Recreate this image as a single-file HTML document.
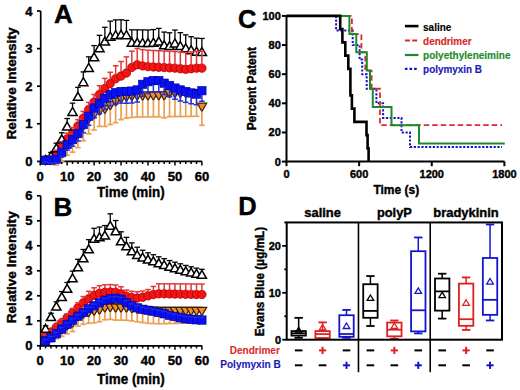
<!DOCTYPE html><html><head><meta charset="utf-8"><style>html,body{margin:0;padding:0;background:#fff;}svg{display:block;}</style></head><body><svg width="520" height="390" viewBox="0 0 520 390" font-family='"Liberation Sans", sans-serif'>
<rect width="520" height="390" fill="#fff"/>
<line x1="40.70" y1="11.00" x2="40.70" y2="162.20" stroke="#000" stroke-width="1.7"/>
<line x1="37.00" y1="161.40" x2="40.70" y2="161.40" stroke="#000" stroke-width="1.7"/>
<text x="32.5" y="166.0" font-size="13" text-anchor="end" fill="#000" stroke="#000" stroke-width="0.4" font-weight="bold">0</text>
<line x1="37.00" y1="123.80" x2="40.70" y2="123.80" stroke="#000" stroke-width="1.7"/>
<text x="32.5" y="128.4" font-size="13" text-anchor="end" fill="#000" stroke="#000" stroke-width="0.4" font-weight="bold">1</text>
<line x1="37.00" y1="86.20" x2="40.70" y2="86.20" stroke="#000" stroke-width="1.7"/>
<text x="32.5" y="90.8" font-size="13" text-anchor="end" fill="#000" stroke="#000" stroke-width="0.4" font-weight="bold">2</text>
<line x1="37.00" y1="48.60" x2="40.70" y2="48.60" stroke="#000" stroke-width="1.7"/>
<text x="32.5" y="53.199999999999996" font-size="13" text-anchor="end" fill="#000" stroke="#000" stroke-width="0.4" font-weight="bold">3</text>
<line x1="37.00" y1="11.00" x2="40.70" y2="11.00" stroke="#000" stroke-width="1.7"/>
<text x="32.5" y="15.6" font-size="13" text-anchor="end" fill="#000" stroke="#000" stroke-width="0.4" font-weight="bold">4</text>
<line x1="39.90" y1="161.40" x2="202.10" y2="161.40" stroke="#000" stroke-width="1.7"/>
<line x1="40.20" y1="161.40" x2="40.20" y2="165.40" stroke="#000" stroke-width="1.5"/>
<line x1="45.59" y1="161.40" x2="45.59" y2="164.00" stroke="#000" stroke-width="1.5"/>
<line x1="50.98" y1="161.40" x2="50.98" y2="164.00" stroke="#000" stroke-width="1.5"/>
<line x1="56.37" y1="161.40" x2="56.37" y2="164.00" stroke="#000" stroke-width="1.5"/>
<line x1="61.76" y1="161.40" x2="61.76" y2="164.00" stroke="#000" stroke-width="1.5"/>
<line x1="67.15" y1="161.40" x2="67.15" y2="165.40" stroke="#000" stroke-width="1.5"/>
<line x1="72.54" y1="161.40" x2="72.54" y2="164.00" stroke="#000" stroke-width="1.5"/>
<line x1="77.93" y1="161.40" x2="77.93" y2="164.00" stroke="#000" stroke-width="1.5"/>
<line x1="83.32" y1="161.40" x2="83.32" y2="164.00" stroke="#000" stroke-width="1.5"/>
<line x1="88.71" y1="161.40" x2="88.71" y2="164.00" stroke="#000" stroke-width="1.5"/>
<line x1="94.10" y1="161.40" x2="94.10" y2="165.40" stroke="#000" stroke-width="1.5"/>
<line x1="99.49" y1="161.40" x2="99.49" y2="164.00" stroke="#000" stroke-width="1.5"/>
<line x1="104.88" y1="161.40" x2="104.88" y2="164.00" stroke="#000" stroke-width="1.5"/>
<line x1="110.27" y1="161.40" x2="110.27" y2="164.00" stroke="#000" stroke-width="1.5"/>
<line x1="115.66" y1="161.40" x2="115.66" y2="164.00" stroke="#000" stroke-width="1.5"/>
<line x1="121.05" y1="161.40" x2="121.05" y2="165.40" stroke="#000" stroke-width="1.5"/>
<line x1="126.44" y1="161.40" x2="126.44" y2="164.00" stroke="#000" stroke-width="1.5"/>
<line x1="131.83" y1="161.40" x2="131.83" y2="164.00" stroke="#000" stroke-width="1.5"/>
<line x1="137.22" y1="161.40" x2="137.22" y2="164.00" stroke="#000" stroke-width="1.5"/>
<line x1="142.61" y1="161.40" x2="142.61" y2="164.00" stroke="#000" stroke-width="1.5"/>
<line x1="148.00" y1="161.40" x2="148.00" y2="165.40" stroke="#000" stroke-width="1.5"/>
<line x1="153.39" y1="161.40" x2="153.39" y2="164.00" stroke="#000" stroke-width="1.5"/>
<line x1="158.78" y1="161.40" x2="158.78" y2="164.00" stroke="#000" stroke-width="1.5"/>
<line x1="164.17" y1="161.40" x2="164.17" y2="164.00" stroke="#000" stroke-width="1.5"/>
<line x1="169.56" y1="161.40" x2="169.56" y2="164.00" stroke="#000" stroke-width="1.5"/>
<line x1="174.95" y1="161.40" x2="174.95" y2="165.40" stroke="#000" stroke-width="1.5"/>
<line x1="180.34" y1="161.40" x2="180.34" y2="164.00" stroke="#000" stroke-width="1.5"/>
<line x1="185.73" y1="161.40" x2="185.73" y2="164.00" stroke="#000" stroke-width="1.5"/>
<line x1="191.12" y1="161.40" x2="191.12" y2="164.00" stroke="#000" stroke-width="1.5"/>
<line x1="196.51" y1="161.40" x2="196.51" y2="164.00" stroke="#000" stroke-width="1.5"/>
<line x1="201.90" y1="161.40" x2="201.90" y2="165.40" stroke="#000" stroke-width="1.5"/>
<path d="M40.79 156.45L50.39 156.45L45.59 164.85Z" fill="#f28a2a" stroke="#3a2000" stroke-width="1.2"/><path d="M46.18 156.07L55.78 156.07L50.98 164.47Z" fill="#f28a2a" stroke="#3a2000" stroke-width="1.2"/><path d="M51.57 155.32L61.17 155.32L56.37 163.72Z" fill="#f28a2a" stroke="#3a2000" stroke-width="1.2"/><path d="M56.96 149.68L66.56 149.68L61.76 158.08Z" fill="#f28a2a" stroke="#3a2000" stroke-width="1.2"/><path d="M62.35 142.16L71.95 142.16L67.15 150.56Z" fill="#f28a2a" stroke="#3a2000" stroke-width="1.2"/><path d="M67.74 137.27L77.34 137.27L72.54 145.67Z" fill="#f28a2a" stroke="#3a2000" stroke-width="1.2"/><path d="M73.13 130.88L82.73 130.88L77.93 139.28Z" fill="#f28a2a" stroke="#3a2000" stroke-width="1.2"/><path d="M78.52 122.23L88.12 122.23L83.32 130.63Z" fill="#f28a2a" stroke="#3a2000" stroke-width="1.2"/><path d="M83.91 115.09L93.51 115.09L88.71 123.49Z" fill="#f28a2a" stroke="#3a2000" stroke-width="1.2"/><path d="M89.30 110.95L98.90 110.95L94.10 119.35Z" fill="#f28a2a" stroke="#3a2000" stroke-width="1.2"/><path d="M94.69 107.19L104.29 107.19L99.49 115.59Z" fill="#f28a2a" stroke="#3a2000" stroke-width="1.2"/><path d="M100.08 105.31L109.68 105.31L104.88 113.71Z" fill="#f28a2a" stroke="#3a2000" stroke-width="1.2"/><path d="M105.47 101.55L115.07 101.55L110.27 109.95Z" fill="#f28a2a" stroke="#3a2000" stroke-width="1.2"/><path d="M110.86 97.79L120.46 97.79L115.66 106.19Z" fill="#f28a2a" stroke="#3a2000" stroke-width="1.2"/><path d="M116.25 94.78L125.85 94.78L121.05 103.18Z" fill="#f28a2a" stroke="#3a2000" stroke-width="1.2"/><path d="M121.64 93.28L131.24 93.28L126.44 101.68Z" fill="#f28a2a" stroke="#3a2000" stroke-width="1.2"/><path d="M127.03 92.53L136.63 92.53L131.83 100.93Z" fill="#f28a2a" stroke="#3a2000" stroke-width="1.2"/><path d="M132.42 92.15L142.02 92.15L137.22 100.55Z" fill="#f28a2a" stroke="#3a2000" stroke-width="1.2"/><path d="M137.81 92.08L147.41 92.08L142.61 100.48Z" fill="#f28a2a" stroke="#3a2000" stroke-width="1.2"/><path d="M143.20 92.00L152.80 92.00L148.00 100.40Z" fill="#f28a2a" stroke="#3a2000" stroke-width="1.2"/><path d="M148.59 91.93L158.19 91.93L153.39 100.33Z" fill="#f28a2a" stroke="#3a2000" stroke-width="1.2"/><path d="M153.98 91.85L163.58 91.85L158.78 100.25Z" fill="#f28a2a" stroke="#3a2000" stroke-width="1.2"/><path d="M159.37 91.78L168.97 91.78L164.17 100.18Z" fill="#f28a2a" stroke="#3a2000" stroke-width="1.2"/><path d="M164.76 89.52L174.36 89.52L169.56 97.92Z" fill="#f28a2a" stroke="#3a2000" stroke-width="1.2"/><path d="M170.15 89.52L179.75 89.52L174.95 97.92Z" fill="#f28a2a" stroke="#3a2000" stroke-width="1.2"/><path d="M175.54 89.52L185.14 89.52L180.34 97.92Z" fill="#f28a2a" stroke="#3a2000" stroke-width="1.2"/><path d="M180.93 89.52L190.53 89.52L185.73 97.92Z" fill="#f28a2a" stroke="#3a2000" stroke-width="1.2"/><path d="M186.32 89.52L195.92 89.52L191.12 97.92Z" fill="#f28a2a" stroke="#3a2000" stroke-width="1.2"/><path d="M191.71 89.52L201.31 89.52L196.51 97.92Z" fill="#f28a2a" stroke="#3a2000" stroke-width="1.2"/><path d="M197.10 103.06L206.70 103.06L201.90 111.46Z" fill="#f28a2a" stroke="#3a2000" stroke-width="1.2"/>
<line x1="42.79" y1="162.53" x2="48.39" y2="162.53" stroke="#ec9f50" stroke-width="1.7"/><line x1="48.18" y1="163.92" x2="53.78" y2="163.92" stroke="#ec9f50" stroke-width="1.7"/><line x1="56.37" y1="163.72" x2="56.37" y2="164.95" stroke="#ec9f50" stroke-width="1.7"/><line x1="53.57" y1="164.95" x2="59.17" y2="164.95" stroke="#ec9f50" stroke-width="1.7"/><line x1="61.76" y1="158.08" x2="61.76" y2="161.08" stroke="#ec9f50" stroke-width="1.7"/><line x1="58.96" y1="161.08" x2="64.56" y2="161.08" stroke="#ec9f50" stroke-width="1.7"/><line x1="67.15" y1="150.56" x2="67.15" y2="155.33" stroke="#ec9f50" stroke-width="1.7"/><line x1="64.35" y1="155.33" x2="69.95" y2="155.33" stroke="#ec9f50" stroke-width="1.7"/><line x1="72.54" y1="145.67" x2="72.54" y2="152.21" stroke="#ec9f50" stroke-width="1.7"/><line x1="69.74" y1="152.21" x2="75.34" y2="152.21" stroke="#ec9f50" stroke-width="1.7"/><line x1="77.93" y1="139.28" x2="77.93" y2="147.60" stroke="#ec9f50" stroke-width="1.7"/><line x1="75.13" y1="147.60" x2="80.73" y2="147.60" stroke="#ec9f50" stroke-width="1.7"/><line x1="83.32" y1="130.63" x2="83.32" y2="140.72" stroke="#ec9f50" stroke-width="1.7"/><line x1="80.52" y1="140.72" x2="86.12" y2="140.72" stroke="#ec9f50" stroke-width="1.7"/><line x1="88.71" y1="123.49" x2="88.71" y2="133.83" stroke="#ec9f50" stroke-width="1.7"/><line x1="85.91" y1="133.83" x2="91.51" y2="133.83" stroke="#ec9f50" stroke-width="1.7"/><line x1="94.10" y1="119.35" x2="94.10" y2="129.94" stroke="#ec9f50" stroke-width="1.7"/><line x1="91.30" y1="129.94" x2="96.90" y2="129.94" stroke="#ec9f50" stroke-width="1.7"/><line x1="99.49" y1="115.59" x2="99.49" y2="126.43" stroke="#ec9f50" stroke-width="1.7"/><line x1="96.69" y1="126.43" x2="102.29" y2="126.43" stroke="#ec9f50" stroke-width="1.7"/><line x1="104.88" y1="113.71" x2="104.88" y2="126.43" stroke="#ec9f50" stroke-width="1.7"/><line x1="102.08" y1="126.43" x2="107.68" y2="126.43" stroke="#ec9f50" stroke-width="1.7"/><line x1="110.27" y1="109.95" x2="110.27" y2="124.55" stroke="#ec9f50" stroke-width="1.7"/><line x1="107.47" y1="124.55" x2="113.07" y2="124.55" stroke="#ec9f50" stroke-width="1.7"/><line x1="115.66" y1="106.19" x2="115.66" y2="122.67" stroke="#ec9f50" stroke-width="1.7"/><line x1="112.86" y1="122.67" x2="118.46" y2="122.67" stroke="#ec9f50" stroke-width="1.7"/><line x1="121.05" y1="103.18" x2="121.05" y2="119.66" stroke="#ec9f50" stroke-width="1.7"/><line x1="118.25" y1="119.66" x2="123.85" y2="119.66" stroke="#ec9f50" stroke-width="1.7"/><line x1="126.44" y1="101.68" x2="126.44" y2="118.16" stroke="#ec9f50" stroke-width="1.7"/><line x1="123.64" y1="118.16" x2="129.24" y2="118.16" stroke="#ec9f50" stroke-width="1.7"/><line x1="131.83" y1="100.93" x2="131.83" y2="117.41" stroke="#ec9f50" stroke-width="1.7"/><line x1="129.03" y1="117.41" x2="134.63" y2="117.41" stroke="#ec9f50" stroke-width="1.7"/><line x1="137.22" y1="100.55" x2="137.22" y2="117.03" stroke="#ec9f50" stroke-width="1.7"/><line x1="134.42" y1="117.03" x2="140.02" y2="117.03" stroke="#ec9f50" stroke-width="1.7"/><line x1="142.61" y1="100.48" x2="142.61" y2="116.96" stroke="#ec9f50" stroke-width="1.7"/><line x1="139.81" y1="116.96" x2="145.41" y2="116.96" stroke="#ec9f50" stroke-width="1.7"/><line x1="148.00" y1="100.40" x2="148.00" y2="116.88" stroke="#ec9f50" stroke-width="1.7"/><line x1="145.20" y1="116.88" x2="150.80" y2="116.88" stroke="#ec9f50" stroke-width="1.7"/><line x1="153.39" y1="100.33" x2="153.39" y2="116.81" stroke="#ec9f50" stroke-width="1.7"/><line x1="150.59" y1="116.81" x2="156.19" y2="116.81" stroke="#ec9f50" stroke-width="1.7"/><line x1="158.78" y1="100.25" x2="158.78" y2="116.73" stroke="#ec9f50" stroke-width="1.7"/><line x1="155.98" y1="116.73" x2="161.58" y2="116.73" stroke="#ec9f50" stroke-width="1.7"/><line x1="164.17" y1="100.18" x2="164.17" y2="117.78" stroke="#ec9f50" stroke-width="1.7"/><line x1="161.37" y1="117.78" x2="166.97" y2="117.78" stroke="#ec9f50" stroke-width="1.7"/><line x1="169.56" y1="97.92" x2="169.56" y2="116.66" stroke="#ec9f50" stroke-width="1.7"/><line x1="166.76" y1="116.66" x2="172.36" y2="116.66" stroke="#ec9f50" stroke-width="1.7"/><line x1="174.95" y1="97.92" x2="174.95" y2="116.58" stroke="#ec9f50" stroke-width="1.7"/><line x1="172.15" y1="116.58" x2="177.75" y2="116.58" stroke="#ec9f50" stroke-width="1.7"/><line x1="180.34" y1="97.92" x2="180.34" y2="116.51" stroke="#ec9f50" stroke-width="1.7"/><line x1="177.54" y1="116.51" x2="183.14" y2="116.51" stroke="#ec9f50" stroke-width="1.7"/><line x1="185.73" y1="97.92" x2="185.73" y2="116.43" stroke="#ec9f50" stroke-width="1.7"/><line x1="182.93" y1="116.43" x2="188.53" y2="116.43" stroke="#ec9f50" stroke-width="1.7"/><line x1="191.12" y1="97.92" x2="191.12" y2="116.36" stroke="#ec9f50" stroke-width="1.7"/><line x1="188.32" y1="116.36" x2="193.92" y2="116.36" stroke="#ec9f50" stroke-width="1.7"/><line x1="196.51" y1="97.92" x2="196.51" y2="116.28" stroke="#ec9f50" stroke-width="1.7"/><line x1="193.71" y1="116.28" x2="199.31" y2="116.28" stroke="#ec9f50" stroke-width="1.7"/><line x1="201.90" y1="111.46" x2="201.90" y2="125.30" stroke="#ec9f50" stroke-width="1.7"/><line x1="199.10" y1="125.30" x2="204.70" y2="125.30" stroke="#ec9f50" stroke-width="1.7"/>
<circle cx="45.59" cy="160.27" r="4.2" fill="#f41414" stroke="#a80000" stroke-width="0.8"/><circle cx="50.98" cy="158.77" r="4.2" fill="#f41414" stroke="#a80000" stroke-width="0.8"/><circle cx="56.37" cy="153.88" r="4.2" fill="#f41414" stroke="#a80000" stroke-width="0.8"/><circle cx="61.76" cy="146.36" r="4.2" fill="#f41414" stroke="#a80000" stroke-width="0.8"/><circle cx="67.15" cy="138.84" r="4.2" fill="#f41414" stroke="#a80000" stroke-width="0.8"/><circle cx="72.54" cy="133.58" r="4.2" fill="#f41414" stroke="#a80000" stroke-width="0.8"/><circle cx="77.93" cy="126.06" r="4.2" fill="#f41414" stroke="#a80000" stroke-width="0.8"/><circle cx="83.32" cy="118.16" r="4.2" fill="#f41414" stroke="#a80000" stroke-width="0.8"/><circle cx="88.71" cy="109.51" r="4.2" fill="#f41414" stroke="#a80000" stroke-width="0.8"/><circle cx="94.10" cy="101.99" r="4.2" fill="#f41414" stroke="#a80000" stroke-width="0.8"/><circle cx="99.49" cy="94.47" r="4.2" fill="#f41414" stroke="#a80000" stroke-width="0.8"/><circle cx="104.88" cy="88.46" r="4.2" fill="#f41414" stroke="#a80000" stroke-width="0.8"/><circle cx="110.27" cy="83.57" r="4.2" fill="#f41414" stroke="#a80000" stroke-width="0.8"/><circle cx="115.66" cy="78.68" r="4.2" fill="#f41414" stroke="#a80000" stroke-width="0.8"/><circle cx="121.05" cy="76.05" r="4.2" fill="#f41414" stroke="#a80000" stroke-width="0.8"/><circle cx="126.44" cy="73.04" r="4.2" fill="#f41414" stroke="#a80000" stroke-width="0.8"/><circle cx="131.83" cy="67.40" r="4.2" fill="#f41414" stroke="#a80000" stroke-width="0.8"/><circle cx="137.22" cy="64.77" r="4.2" fill="#f41414" stroke="#a80000" stroke-width="0.8"/><circle cx="142.61" cy="65.90" r="4.2" fill="#f41414" stroke="#a80000" stroke-width="0.8"/><circle cx="148.00" cy="66.65" r="4.2" fill="#f41414" stroke="#a80000" stroke-width="0.8"/><circle cx="153.39" cy="66.95" r="4.2" fill="#f41414" stroke="#a80000" stroke-width="0.8"/><circle cx="158.78" cy="67.25" r="4.2" fill="#f41414" stroke="#a80000" stroke-width="0.8"/><circle cx="164.17" cy="67.55" r="4.2" fill="#f41414" stroke="#a80000" stroke-width="0.8"/><circle cx="169.56" cy="67.85" r="4.2" fill="#f41414" stroke="#a80000" stroke-width="0.8"/><circle cx="174.95" cy="68.15" r="4.2" fill="#f41414" stroke="#a80000" stroke-width="0.8"/><circle cx="180.34" cy="68.72" r="4.2" fill="#f41414" stroke="#a80000" stroke-width="0.8"/><circle cx="185.73" cy="69.28" r="4.2" fill="#f41414" stroke="#a80000" stroke-width="0.8"/><circle cx="191.12" cy="68.72" r="4.2" fill="#f41414" stroke="#a80000" stroke-width="0.8"/><circle cx="196.51" cy="68.15" r="4.2" fill="#f41414" stroke="#a80000" stroke-width="0.8"/><circle cx="201.90" cy="68.15" r="4.2" fill="#f41414" stroke="#a80000" stroke-width="0.8"/>
<path d="M45.59 155.52L50.19 163.52L40.99 163.52Z" fill="#fff" stroke="#000" stroke-width="1.5" stroke-linejoin="miter"/><path d="M50.98 151.76L55.58 159.76L46.38 159.76Z" fill="#fff" stroke="#000" stroke-width="1.5" stroke-linejoin="miter"/><path d="M56.37 143.86L60.97 151.86L51.77 151.86Z" fill="#fff" stroke="#000" stroke-width="1.5" stroke-linejoin="miter"/><path d="M61.76 134.84L66.36 142.84L57.16 142.84Z" fill="#fff" stroke="#000" stroke-width="1.5" stroke-linejoin="miter"/><path d="M67.15 122.06L71.75 130.06L62.55 130.06Z" fill="#fff" stroke="#000" stroke-width="1.5" stroke-linejoin="miter"/><path d="M72.54 107.39L77.14 115.39L67.94 115.39Z" fill="#fff" stroke="#000" stroke-width="1.5" stroke-linejoin="miter"/><path d="M77.93 92.35L82.53 100.35L73.33 100.35Z" fill="#fff" stroke="#000" stroke-width="1.5" stroke-linejoin="miter"/><path d="M83.32 77.69L87.92 85.69L78.72 85.69Z" fill="#fff" stroke="#000" stroke-width="1.5" stroke-linejoin="miter"/><path d="M88.71 63.40L93.31 71.40L84.11 71.40Z" fill="#fff" stroke="#000" stroke-width="1.5" stroke-linejoin="miter"/><path d="M94.10 52.87L98.70 60.87L89.50 60.87Z" fill="#fff" stroke="#000" stroke-width="1.5" stroke-linejoin="miter"/><path d="M99.49 43.85L104.09 51.85L94.89 51.85Z" fill="#fff" stroke="#000" stroke-width="1.5" stroke-linejoin="miter"/><path d="M104.88 37.08L109.48 45.08L100.28 45.08Z" fill="#fff" stroke="#000" stroke-width="1.5" stroke-linejoin="miter"/><path d="M110.27 32.19L114.87 40.19L105.67 40.19Z" fill="#fff" stroke="#000" stroke-width="1.5" stroke-linejoin="miter"/><path d="M115.66 30.69L120.26 38.69L111.06 38.69Z" fill="#fff" stroke="#000" stroke-width="1.5" stroke-linejoin="miter"/><path d="M121.05 30.31L125.65 38.31L116.45 38.31Z" fill="#fff" stroke="#000" stroke-width="1.5" stroke-linejoin="miter"/><path d="M126.44 30.69L131.04 38.69L121.84 38.69Z" fill="#fff" stroke="#000" stroke-width="1.5" stroke-linejoin="miter"/><path d="M131.83 38.21L136.43 46.21L127.23 46.21Z" fill="#fff" stroke="#000" stroke-width="1.5" stroke-linejoin="miter"/><path d="M137.22 38.33L141.82 46.33L132.62 46.33Z" fill="#fff" stroke="#000" stroke-width="1.5" stroke-linejoin="miter"/><path d="M142.61 38.46L147.21 46.46L138.01 46.46Z" fill="#fff" stroke="#000" stroke-width="1.5" stroke-linejoin="miter"/><path d="M148.00 38.58L152.60 46.58L143.40 46.58Z" fill="#fff" stroke="#000" stroke-width="1.5" stroke-linejoin="miter"/><path d="M153.39 38.21L157.99 46.21L148.79 46.21Z" fill="#fff" stroke="#000" stroke-width="1.5" stroke-linejoin="miter"/><path d="M158.78 37.08L163.38 45.08L154.18 45.08Z" fill="#fff" stroke="#000" stroke-width="1.5" stroke-linejoin="miter"/><path d="M164.17 40.84L168.77 48.84L159.57 48.84Z" fill="#fff" stroke="#000" stroke-width="1.5" stroke-linejoin="miter"/><path d="M169.56 41.59L174.16 49.59L164.96 49.59Z" fill="#fff" stroke="#000" stroke-width="1.5" stroke-linejoin="miter"/><path d="M174.95 38.96L179.55 46.96L170.35 46.96Z" fill="#fff" stroke="#000" stroke-width="1.5" stroke-linejoin="miter"/><path d="M180.34 41.59L184.94 49.59L175.74 49.59Z" fill="#fff" stroke="#000" stroke-width="1.5" stroke-linejoin="miter"/><path d="M185.73 43.85L190.33 51.85L181.13 51.85Z" fill="#fff" stroke="#000" stroke-width="1.5" stroke-linejoin="miter"/><path d="M191.12 45.73L195.72 53.73L186.52 53.73Z" fill="#fff" stroke="#000" stroke-width="1.5" stroke-linejoin="miter"/><path d="M196.51 47.23L201.11 55.23L191.91 55.23Z" fill="#fff" stroke="#000" stroke-width="1.5" stroke-linejoin="miter"/><path d="M201.90 47.61L206.50 55.61L197.30 55.61Z" fill="#fff" stroke="#000" stroke-width="1.5" stroke-linejoin="miter"/>
<line x1="42.79" y1="157.64" x2="48.39" y2="157.64" stroke="#000" stroke-width="1.3"/><line x1="48.18" y1="152.47" x2="53.78" y2="152.47" stroke="#000" stroke-width="1.3"/><line x1="56.37" y1="143.86" x2="56.37" y2="143.16" stroke="#000" stroke-width="1.3"/><line x1="53.57" y1="143.16" x2="59.17" y2="143.16" stroke="#000" stroke-width="1.3"/><line x1="61.76" y1="134.84" x2="61.76" y2="132.73" stroke="#000" stroke-width="1.3"/><line x1="58.96" y1="132.73" x2="64.56" y2="132.73" stroke="#000" stroke-width="1.3"/><line x1="67.15" y1="122.06" x2="67.15" y2="118.54" stroke="#000" stroke-width="1.3"/><line x1="64.35" y1="118.54" x2="69.95" y2="118.54" stroke="#000" stroke-width="1.3"/><line x1="72.54" y1="107.39" x2="72.54" y2="103.12" stroke="#000" stroke-width="1.3"/><line x1="69.74" y1="103.12" x2="75.34" y2="103.12" stroke="#000" stroke-width="1.3"/><line x1="77.93" y1="92.35" x2="77.93" y2="87.33" stroke="#000" stroke-width="1.3"/><line x1="75.13" y1="87.33" x2="80.73" y2="87.33" stroke="#000" stroke-width="1.3"/><line x1="83.32" y1="77.69" x2="83.32" y2="71.91" stroke="#000" stroke-width="1.3"/><line x1="80.52" y1="71.91" x2="86.12" y2="71.91" stroke="#000" stroke-width="1.3"/><line x1="88.71" y1="63.40" x2="88.71" y2="56.87" stroke="#000" stroke-width="1.3"/><line x1="85.91" y1="56.87" x2="91.51" y2="56.87" stroke="#000" stroke-width="1.3"/><line x1="94.10" y1="52.87" x2="94.10" y2="45.59" stroke="#000" stroke-width="1.3"/><line x1="91.30" y1="45.59" x2="96.90" y2="45.59" stroke="#000" stroke-width="1.3"/><line x1="99.49" y1="43.85" x2="99.49" y2="35.31" stroke="#000" stroke-width="1.3"/><line x1="96.69" y1="35.31" x2="102.29" y2="35.31" stroke="#000" stroke-width="1.3"/><line x1="104.88" y1="37.08" x2="104.88" y2="27.29" stroke="#000" stroke-width="1.3"/><line x1="102.08" y1="27.29" x2="107.68" y2="27.29" stroke="#000" stroke-width="1.3"/><line x1="110.27" y1="32.19" x2="110.27" y2="21.15" stroke="#000" stroke-width="1.3"/><line x1="107.47" y1="21.15" x2="113.07" y2="21.15" stroke="#000" stroke-width="1.3"/><line x1="115.66" y1="30.69" x2="115.66" y2="19.90" stroke="#000" stroke-width="1.3"/><line x1="112.86" y1="19.90" x2="118.46" y2="19.90" stroke="#000" stroke-width="1.3"/><line x1="121.05" y1="30.31" x2="121.05" y2="19.77" stroke="#000" stroke-width="1.3"/><line x1="118.25" y1="19.77" x2="123.85" y2="19.77" stroke="#000" stroke-width="1.3"/><line x1="126.44" y1="30.69" x2="126.44" y2="20.40" stroke="#000" stroke-width="1.3"/><line x1="123.64" y1="20.40" x2="129.24" y2="20.40" stroke="#000" stroke-width="1.3"/><line x1="131.83" y1="38.21" x2="131.83" y2="29.80" stroke="#000" stroke-width="1.3"/><line x1="129.03" y1="29.80" x2="134.63" y2="29.80" stroke="#000" stroke-width="1.3"/><line x1="137.22" y1="38.33" x2="137.22" y2="29.87" stroke="#000" stroke-width="1.3"/><line x1="134.42" y1="29.87" x2="140.02" y2="29.87" stroke="#000" stroke-width="1.3"/><line x1="142.61" y1="38.46" x2="142.61" y2="29.93" stroke="#000" stroke-width="1.3"/><line x1="139.81" y1="29.93" x2="145.41" y2="29.93" stroke="#000" stroke-width="1.3"/><line x1="148.00" y1="38.58" x2="148.00" y2="30.00" stroke="#000" stroke-width="1.3"/><line x1="145.20" y1="30.00" x2="150.80" y2="30.00" stroke="#000" stroke-width="1.3"/><line x1="153.39" y1="38.21" x2="153.39" y2="29.57" stroke="#000" stroke-width="1.3"/><line x1="150.59" y1="29.57" x2="156.19" y2="29.57" stroke="#000" stroke-width="1.3"/><line x1="158.78" y1="37.08" x2="158.78" y2="28.38" stroke="#000" stroke-width="1.3"/><line x1="155.98" y1="28.38" x2="161.58" y2="28.38" stroke="#000" stroke-width="1.3"/><line x1="164.17" y1="40.84" x2="164.17" y2="32.08" stroke="#000" stroke-width="1.3"/><line x1="161.37" y1="32.08" x2="166.97" y2="32.08" stroke="#000" stroke-width="1.3"/><line x1="169.56" y1="41.59" x2="169.56" y2="32.78" stroke="#000" stroke-width="1.3"/><line x1="166.76" y1="32.78" x2="172.36" y2="32.78" stroke="#000" stroke-width="1.3"/><line x1="174.95" y1="38.96" x2="174.95" y2="30.09" stroke="#000" stroke-width="1.3"/><line x1="172.15" y1="30.09" x2="177.75" y2="30.09" stroke="#000" stroke-width="1.3"/><line x1="180.34" y1="41.59" x2="180.34" y2="32.66" stroke="#000" stroke-width="1.3"/><line x1="177.54" y1="32.66" x2="183.14" y2="32.66" stroke="#000" stroke-width="1.3"/><line x1="185.73" y1="43.85" x2="185.73" y2="34.86" stroke="#000" stroke-width="1.3"/><line x1="182.93" y1="34.86" x2="188.53" y2="34.86" stroke="#000" stroke-width="1.3"/><line x1="191.12" y1="45.73" x2="191.12" y2="36.68" stroke="#000" stroke-width="1.3"/><line x1="188.32" y1="36.68" x2="193.92" y2="36.68" stroke="#000" stroke-width="1.3"/><line x1="196.51" y1="47.23" x2="196.51" y2="38.13" stroke="#000" stroke-width="1.3"/><line x1="193.71" y1="38.13" x2="199.31" y2="38.13" stroke="#000" stroke-width="1.3"/><line x1="201.90" y1="47.61" x2="201.90" y2="38.45" stroke="#000" stroke-width="1.3"/><line x1="199.10" y1="38.45" x2="204.70" y2="38.45" stroke="#000" stroke-width="1.3"/>
<line x1="42.79" y1="158.39" x2="48.39" y2="158.39" stroke="#e03838" stroke-width="1.5"/><line x1="48.18" y1="155.95" x2="53.78" y2="155.95" stroke="#e03838" stroke-width="1.5"/><line x1="53.57" y1="150.12" x2="59.17" y2="150.12" stroke="#e03838" stroke-width="1.5"/><line x1="61.76" y1="142.36" x2="61.76" y2="141.66" stroke="#e03838" stroke-width="1.5"/><line x1="58.96" y1="141.66" x2="64.56" y2="141.66" stroke="#e03838" stroke-width="1.5"/><line x1="67.15" y1="134.84" x2="67.15" y2="133.20" stroke="#e03838" stroke-width="1.5"/><line x1="64.35" y1="133.20" x2="69.95" y2="133.20" stroke="#e03838" stroke-width="1.5"/><line x1="72.54" y1="129.58" x2="72.54" y2="127.56" stroke="#e03838" stroke-width="1.5"/><line x1="69.74" y1="127.56" x2="75.34" y2="127.56" stroke="#e03838" stroke-width="1.5"/><line x1="77.93" y1="122.06" x2="77.93" y2="119.66" stroke="#e03838" stroke-width="1.5"/><line x1="75.13" y1="119.66" x2="80.73" y2="119.66" stroke="#e03838" stroke-width="1.5"/><line x1="83.32" y1="114.16" x2="83.32" y2="111.39" stroke="#e03838" stroke-width="1.5"/><line x1="80.52" y1="111.39" x2="86.12" y2="111.39" stroke="#e03838" stroke-width="1.5"/><line x1="88.71" y1="105.51" x2="88.71" y2="102.37" stroke="#e03838" stroke-width="1.5"/><line x1="85.91" y1="102.37" x2="91.51" y2="102.37" stroke="#e03838" stroke-width="1.5"/><line x1="94.10" y1="97.99" x2="94.10" y2="94.47" stroke="#e03838" stroke-width="1.5"/><line x1="91.30" y1="94.47" x2="96.90" y2="94.47" stroke="#e03838" stroke-width="1.5"/><line x1="99.49" y1="90.47" x2="99.49" y2="85.70" stroke="#e03838" stroke-width="1.5"/><line x1="96.69" y1="85.70" x2="102.29" y2="85.70" stroke="#e03838" stroke-width="1.5"/><line x1="104.88" y1="84.46" x2="104.88" y2="78.43" stroke="#e03838" stroke-width="1.5"/><line x1="102.08" y1="78.43" x2="107.68" y2="78.43" stroke="#e03838" stroke-width="1.5"/><line x1="110.27" y1="79.57" x2="110.27" y2="72.29" stroke="#e03838" stroke-width="1.5"/><line x1="107.47" y1="72.29" x2="113.07" y2="72.29" stroke="#e03838" stroke-width="1.5"/><line x1="115.66" y1="74.68" x2="115.66" y2="65.77" stroke="#e03838" stroke-width="1.5"/><line x1="112.86" y1="65.77" x2="118.46" y2="65.77" stroke="#e03838" stroke-width="1.5"/><line x1="121.05" y1="72.05" x2="121.05" y2="61.51" stroke="#e03838" stroke-width="1.5"/><line x1="118.25" y1="61.51" x2="123.85" y2="61.51" stroke="#e03838" stroke-width="1.5"/><line x1="126.44" y1="69.04" x2="126.44" y2="56.87" stroke="#e03838" stroke-width="1.5"/><line x1="123.64" y1="56.87" x2="129.24" y2="56.87" stroke="#e03838" stroke-width="1.5"/><line x1="131.83" y1="63.40" x2="131.83" y2="51.18" stroke="#e03838" stroke-width="1.5"/><line x1="129.03" y1="51.18" x2="134.63" y2="51.18" stroke="#e03838" stroke-width="1.5"/><line x1="137.22" y1="60.77" x2="137.22" y2="48.49" stroke="#e03838" stroke-width="1.5"/><line x1="134.42" y1="48.49" x2="140.02" y2="48.49" stroke="#e03838" stroke-width="1.5"/><line x1="142.61" y1="61.90" x2="142.61" y2="49.57" stroke="#e03838" stroke-width="1.5"/><line x1="139.81" y1="49.57" x2="145.41" y2="49.57" stroke="#e03838" stroke-width="1.5"/><line x1="148.00" y1="62.65" x2="148.00" y2="50.27" stroke="#e03838" stroke-width="1.5"/><line x1="145.20" y1="50.27" x2="150.80" y2="50.27" stroke="#e03838" stroke-width="1.5"/><line x1="153.39" y1="62.95" x2="153.39" y2="50.51" stroke="#e03838" stroke-width="1.5"/><line x1="150.59" y1="50.51" x2="156.19" y2="50.51" stroke="#e03838" stroke-width="1.5"/><line x1="158.78" y1="63.25" x2="158.78" y2="50.76" stroke="#e03838" stroke-width="1.5"/><line x1="155.98" y1="50.76" x2="161.58" y2="50.76" stroke="#e03838" stroke-width="1.5"/><line x1="164.17" y1="63.55" x2="164.17" y2="51.01" stroke="#e03838" stroke-width="1.5"/><line x1="161.37" y1="51.01" x2="166.97" y2="51.01" stroke="#e03838" stroke-width="1.5"/><line x1="169.56" y1="63.85" x2="169.56" y2="51.25" stroke="#e03838" stroke-width="1.5"/><line x1="166.76" y1="51.25" x2="172.36" y2="51.25" stroke="#e03838" stroke-width="1.5"/><line x1="174.95" y1="64.15" x2="174.95" y2="51.50" stroke="#e03838" stroke-width="1.5"/><line x1="172.15" y1="51.50" x2="177.75" y2="51.50" stroke="#e03838" stroke-width="1.5"/><line x1="180.34" y1="64.72" x2="180.34" y2="52.01" stroke="#e03838" stroke-width="1.5"/><line x1="177.54" y1="52.01" x2="183.14" y2="52.01" stroke="#e03838" stroke-width="1.5"/><line x1="185.73" y1="65.28" x2="185.73" y2="52.52" stroke="#e03838" stroke-width="1.5"/><line x1="182.93" y1="52.52" x2="188.53" y2="52.52" stroke="#e03838" stroke-width="1.5"/><line x1="191.12" y1="64.72" x2="191.12" y2="51.90" stroke="#e03838" stroke-width="1.5"/><line x1="188.32" y1="51.90" x2="193.92" y2="51.90" stroke="#e03838" stroke-width="1.5"/><line x1="196.51" y1="64.15" x2="196.51" y2="51.29" stroke="#e03838" stroke-width="1.5"/><line x1="193.71" y1="51.29" x2="199.31" y2="51.29" stroke="#e03838" stroke-width="1.5"/><line x1="201.90" y1="64.15" x2="201.90" y2="51.23" stroke="#e03838" stroke-width="1.5"/><line x1="199.10" y1="51.23" x2="204.70" y2="51.23" stroke="#e03838" stroke-width="1.5"/>
<rect x="41.39" y="156.07" width="8.4" height="8.4" fill="#0a10f0" stroke="#0000a0" stroke-width="0.6"/><rect x="46.78" y="156.07" width="8.4" height="8.4" fill="#0a10f0" stroke="#0000a0" stroke-width="0.6"/><rect x="52.17" y="154.94" width="8.4" height="8.4" fill="#0a10f0" stroke="#0000a0" stroke-width="0.6"/><rect x="57.56" y="148.18" width="8.4" height="8.4" fill="#0a10f0" stroke="#0000a0" stroke-width="0.6"/><rect x="62.95" y="140.28" width="8.4" height="8.4" fill="#0a10f0" stroke="#0000a0" stroke-width="0.6"/><rect x="68.34" y="135.39" width="8.4" height="8.4" fill="#0a10f0" stroke="#0000a0" stroke-width="0.6"/><rect x="73.73" y="129.38" width="8.4" height="8.4" fill="#0a10f0" stroke="#0000a0" stroke-width="0.6"/><rect x="79.12" y="120.35" width="8.4" height="8.4" fill="#0a10f0" stroke="#0000a0" stroke-width="0.6"/><rect x="84.51" y="112.08" width="8.4" height="8.4" fill="#0a10f0" stroke="#0000a0" stroke-width="0.6"/><rect x="89.90" y="103.81" width="8.4" height="8.4" fill="#0a10f0" stroke="#0000a0" stroke-width="0.6"/><rect x="95.29" y="98.92" width="8.4" height="8.4" fill="#0a10f0" stroke="#0000a0" stroke-width="0.6"/><rect x="100.68" y="94.03" width="8.4" height="8.4" fill="#0a10f0" stroke="#0000a0" stroke-width="0.6"/><rect x="106.07" y="90.27" width="8.4" height="8.4" fill="#0a10f0" stroke="#0000a0" stroke-width="0.6"/><rect x="111.46" y="88.39" width="8.4" height="8.4" fill="#0a10f0" stroke="#0000a0" stroke-width="0.6"/><rect x="116.85" y="87.26" width="8.4" height="8.4" fill="#0a10f0" stroke="#0000a0" stroke-width="0.6"/><rect x="122.24" y="87.26" width="8.4" height="8.4" fill="#0a10f0" stroke="#0000a0" stroke-width="0.6"/><rect x="127.63" y="86.89" width="8.4" height="8.4" fill="#0a10f0" stroke="#0000a0" stroke-width="0.6"/><rect x="133.02" y="85.76" width="8.4" height="8.4" fill="#0a10f0" stroke="#0000a0" stroke-width="0.6"/><rect x="138.41" y="80.12" width="8.4" height="8.4" fill="#0a10f0" stroke="#0000a0" stroke-width="0.6"/><rect x="143.80" y="77.49" width="8.4" height="8.4" fill="#0a10f0" stroke="#0000a0" stroke-width="0.6"/><rect x="149.19" y="76.36" width="8.4" height="8.4" fill="#0a10f0" stroke="#0000a0" stroke-width="0.6"/><rect x="154.58" y="76.36" width="8.4" height="8.4" fill="#0a10f0" stroke="#0000a0" stroke-width="0.6"/><rect x="159.97" y="78.99" width="8.4" height="8.4" fill="#0a10f0" stroke="#0000a0" stroke-width="0.6"/><rect x="165.36" y="81.25" width="8.4" height="8.4" fill="#0a10f0" stroke="#0000a0" stroke-width="0.6"/><rect x="170.75" y="83.88" width="8.4" height="8.4" fill="#0a10f0" stroke="#0000a0" stroke-width="0.6"/><rect x="176.14" y="85.76" width="8.4" height="8.4" fill="#0a10f0" stroke="#0000a0" stroke-width="0.6"/><rect x="181.53" y="87.26" width="8.4" height="8.4" fill="#0a10f0" stroke="#0000a0" stroke-width="0.6"/><rect x="186.92" y="88.77" width="8.4" height="8.4" fill="#0a10f0" stroke="#0000a0" stroke-width="0.6"/><rect x="192.31" y="89.90" width="8.4" height="8.4" fill="#0a10f0" stroke="#0000a0" stroke-width="0.6"/><rect x="197.70" y="86.51" width="8.4" height="8.4" fill="#0a10f0" stroke="#0000a0" stroke-width="0.6"/>
<line x1="42.79" y1="162.15" x2="48.39" y2="162.15" stroke="#2030e0" stroke-width="1.5"/><line x1="48.18" y1="163.09" x2="53.78" y2="163.09" stroke="#2030e0" stroke-width="1.5"/><line x1="53.57" y1="162.90" x2="59.17" y2="162.90" stroke="#2030e0" stroke-width="1.5"/><line x1="61.76" y1="156.58" x2="61.76" y2="157.08" stroke="#2030e0" stroke-width="1.5"/><line x1="58.96" y1="157.08" x2="64.56" y2="157.08" stroke="#2030e0" stroke-width="1.5"/><line x1="67.15" y1="148.68" x2="67.15" y2="150.12" stroke="#2030e0" stroke-width="1.5"/><line x1="64.35" y1="150.12" x2="69.95" y2="150.12" stroke="#2030e0" stroke-width="1.5"/><line x1="72.54" y1="143.79" x2="72.54" y2="146.17" stroke="#2030e0" stroke-width="1.5"/><line x1="69.74" y1="146.17" x2="75.34" y2="146.17" stroke="#2030e0" stroke-width="1.5"/><line x1="77.93" y1="137.78" x2="77.93" y2="141.10" stroke="#2030e0" stroke-width="1.5"/><line x1="75.13" y1="141.10" x2="80.73" y2="141.10" stroke="#2030e0" stroke-width="1.5"/><line x1="83.32" y1="128.75" x2="83.32" y2="132.82" stroke="#2030e0" stroke-width="1.5"/><line x1="80.52" y1="132.82" x2="86.12" y2="132.82" stroke="#2030e0" stroke-width="1.5"/><line x1="88.71" y1="120.48" x2="88.71" y2="125.30" stroke="#2030e0" stroke-width="1.5"/><line x1="85.91" y1="125.30" x2="91.51" y2="125.30" stroke="#2030e0" stroke-width="1.5"/><line x1="94.10" y1="112.21" x2="94.10" y2="117.78" stroke="#2030e0" stroke-width="1.5"/><line x1="91.30" y1="117.78" x2="96.90" y2="117.78" stroke="#2030e0" stroke-width="1.5"/><line x1="99.49" y1="107.32" x2="99.49" y2="113.65" stroke="#2030e0" stroke-width="1.5"/><line x1="96.69" y1="113.65" x2="102.29" y2="113.65" stroke="#2030e0" stroke-width="1.5"/><line x1="104.88" y1="102.43" x2="104.88" y2="109.51" stroke="#2030e0" stroke-width="1.5"/><line x1="102.08" y1="109.51" x2="107.68" y2="109.51" stroke="#2030e0" stroke-width="1.5"/><line x1="110.27" y1="98.67" x2="110.27" y2="105.88" stroke="#2030e0" stroke-width="1.5"/><line x1="107.47" y1="105.88" x2="113.07" y2="105.88" stroke="#2030e0" stroke-width="1.5"/><line x1="115.66" y1="96.79" x2="115.66" y2="104.12" stroke="#2030e0" stroke-width="1.5"/><line x1="112.86" y1="104.12" x2="118.46" y2="104.12" stroke="#2030e0" stroke-width="1.5"/><line x1="121.05" y1="95.66" x2="121.05" y2="103.12" stroke="#2030e0" stroke-width="1.5"/><line x1="118.25" y1="103.12" x2="123.85" y2="103.12" stroke="#2030e0" stroke-width="1.5"/><line x1="126.44" y1="95.66" x2="126.44" y2="103.25" stroke="#2030e0" stroke-width="1.5"/><line x1="123.64" y1="103.25" x2="129.24" y2="103.25" stroke="#2030e0" stroke-width="1.5"/><line x1="131.83" y1="95.29" x2="131.83" y2="102.99" stroke="#2030e0" stroke-width="1.5"/><line x1="129.03" y1="102.99" x2="134.63" y2="102.99" stroke="#2030e0" stroke-width="1.5"/><line x1="137.22" y1="94.16" x2="137.22" y2="101.99" stroke="#2030e0" stroke-width="1.5"/><line x1="134.42" y1="101.99" x2="140.02" y2="101.99" stroke="#2030e0" stroke-width="1.5"/><line x1="142.61" y1="88.52" x2="142.61" y2="96.23" stroke="#2030e0" stroke-width="1.5"/><line x1="139.81" y1="96.23" x2="145.41" y2="96.23" stroke="#2030e0" stroke-width="1.5"/><line x1="148.00" y1="85.89" x2="148.00" y2="93.47" stroke="#2030e0" stroke-width="1.5"/><line x1="145.20" y1="93.47" x2="150.80" y2="93.47" stroke="#2030e0" stroke-width="1.5"/><line x1="153.39" y1="84.76" x2="153.39" y2="92.22" stroke="#2030e0" stroke-width="1.5"/><line x1="150.59" y1="92.22" x2="156.19" y2="92.22" stroke="#2030e0" stroke-width="1.5"/><line x1="158.78" y1="84.76" x2="158.78" y2="92.09" stroke="#2030e0" stroke-width="1.5"/><line x1="155.98" y1="92.09" x2="161.58" y2="92.09" stroke="#2030e0" stroke-width="1.5"/><line x1="164.17" y1="87.39" x2="164.17" y2="94.60" stroke="#2030e0" stroke-width="1.5"/><line x1="161.37" y1="94.60" x2="166.97" y2="94.60" stroke="#2030e0" stroke-width="1.5"/><line x1="169.56" y1="89.65" x2="169.56" y2="96.73" stroke="#2030e0" stroke-width="1.5"/><line x1="166.76" y1="96.73" x2="172.36" y2="96.73" stroke="#2030e0" stroke-width="1.5"/><line x1="174.95" y1="92.28" x2="174.95" y2="99.23" stroke="#2030e0" stroke-width="1.5"/><line x1="172.15" y1="99.23" x2="177.75" y2="99.23" stroke="#2030e0" stroke-width="1.5"/><line x1="180.34" y1="94.16" x2="180.34" y2="100.99" stroke="#2030e0" stroke-width="1.5"/><line x1="177.54" y1="100.99" x2="183.14" y2="100.99" stroke="#2030e0" stroke-width="1.5"/><line x1="185.73" y1="95.66" x2="185.73" y2="102.37" stroke="#2030e0" stroke-width="1.5"/><line x1="182.93" y1="102.37" x2="188.53" y2="102.37" stroke="#2030e0" stroke-width="1.5"/><line x1="191.12" y1="97.17" x2="191.12" y2="103.75" stroke="#2030e0" stroke-width="1.5"/><line x1="188.32" y1="103.75" x2="193.92" y2="103.75" stroke="#2030e0" stroke-width="1.5"/><line x1="196.51" y1="98.30" x2="196.51" y2="104.75" stroke="#2030e0" stroke-width="1.5"/><line x1="193.71" y1="104.75" x2="199.31" y2="104.75" stroke="#2030e0" stroke-width="1.5"/><line x1="201.90" y1="94.91" x2="201.90" y2="101.24" stroke="#2030e0" stroke-width="1.5"/><line x1="199.10" y1="101.24" x2="204.70" y2="101.24" stroke="#2030e0" stroke-width="1.5"/>
<text x="40.2" y="180.70000000000002" font-size="13" text-anchor="middle" fill="#000" stroke="#000" stroke-width="0.4" font-weight="bold">0</text>
<text x="67.15" y="180.70000000000002" font-size="13" text-anchor="middle" fill="#000" stroke="#000" stroke-width="0.4" font-weight="bold">10</text>
<text x="94.1" y="180.70000000000002" font-size="13" text-anchor="middle" fill="#000" stroke="#000" stroke-width="0.4" font-weight="bold">20</text>
<text x="121.05" y="180.70000000000002" font-size="13" text-anchor="middle" fill="#000" stroke="#000" stroke-width="0.4" font-weight="bold">30</text>
<text x="148.0" y="180.70000000000002" font-size="13" text-anchor="middle" fill="#000" stroke="#000" stroke-width="0.4" font-weight="bold">40</text>
<text x="174.95" y="180.70000000000002" font-size="13" text-anchor="middle" fill="#000" stroke="#000" stroke-width="0.4" font-weight="bold">50</text>
<text x="201.89999999999998" y="180.70000000000002" font-size="13" text-anchor="middle" fill="#000" stroke="#000" stroke-width="0.4" font-weight="bold">60</text>
<text x="130.9" y="197.3" font-size="14" text-anchor="middle" fill="#000" stroke="#000" stroke-width="0.4" font-weight="bold" textLength="67.6" lengthAdjust="spacingAndGlyphs">Time (min)</text>
<text x="16.3" y="83.5" font-size="13" text-anchor="middle" fill="#000" stroke="#000" stroke-width="0.4" font-weight="bold" transform="rotate(-90 16.3 83.5)" textLength="112" lengthAdjust="spacingAndGlyphs">Relative Intensity</text>
<text x="54.0" y="22.6" font-size="26" text-anchor="start" fill="#000" stroke="#000" stroke-width="0.4" font-weight="bold">A</text>
<line x1="40.70" y1="195.80" x2="40.70" y2="346.60" stroke="#000" stroke-width="1.7"/>
<line x1="37.00" y1="345.80" x2="40.70" y2="345.80" stroke="#000" stroke-width="1.7"/>
<text x="32.5" y="350.40000000000003" font-size="13" text-anchor="end" fill="#000" stroke="#000" stroke-width="0.4" font-weight="bold">0</text>
<line x1="37.00" y1="320.80" x2="40.70" y2="320.80" stroke="#000" stroke-width="1.7"/>
<text x="32.5" y="325.40000000000003" font-size="13" text-anchor="end" fill="#000" stroke="#000" stroke-width="0.4" font-weight="bold">1</text>
<line x1="37.00" y1="295.80" x2="40.70" y2="295.80" stroke="#000" stroke-width="1.7"/>
<text x="32.5" y="300.40000000000003" font-size="13" text-anchor="end" fill="#000" stroke="#000" stroke-width="0.4" font-weight="bold">2</text>
<line x1="37.00" y1="270.80" x2="40.70" y2="270.80" stroke="#000" stroke-width="1.7"/>
<text x="32.5" y="275.40000000000003" font-size="13" text-anchor="end" fill="#000" stroke="#000" stroke-width="0.4" font-weight="bold">3</text>
<line x1="37.00" y1="245.80" x2="40.70" y2="245.80" stroke="#000" stroke-width="1.7"/>
<text x="32.5" y="250.4" font-size="13" text-anchor="end" fill="#000" stroke="#000" stroke-width="0.4" font-weight="bold">4</text>
<line x1="37.00" y1="220.80" x2="40.70" y2="220.80" stroke="#000" stroke-width="1.7"/>
<text x="32.5" y="225.4" font-size="13" text-anchor="end" fill="#000" stroke="#000" stroke-width="0.4" font-weight="bold">5</text>
<line x1="37.00" y1="195.80" x2="40.70" y2="195.80" stroke="#000" stroke-width="1.7"/>
<text x="32.5" y="200.4" font-size="13" text-anchor="end" fill="#000" stroke="#000" stroke-width="0.4" font-weight="bold">6</text>
<line x1="39.90" y1="345.80" x2="202.10" y2="345.80" stroke="#000" stroke-width="1.7"/>
<line x1="40.20" y1="345.80" x2="40.20" y2="349.80" stroke="#000" stroke-width="1.5"/>
<line x1="45.59" y1="345.80" x2="45.59" y2="348.40" stroke="#000" stroke-width="1.5"/>
<line x1="50.98" y1="345.80" x2="50.98" y2="348.40" stroke="#000" stroke-width="1.5"/>
<line x1="56.37" y1="345.80" x2="56.37" y2="348.40" stroke="#000" stroke-width="1.5"/>
<line x1="61.76" y1="345.80" x2="61.76" y2="348.40" stroke="#000" stroke-width="1.5"/>
<line x1="67.15" y1="345.80" x2="67.15" y2="349.80" stroke="#000" stroke-width="1.5"/>
<line x1="72.54" y1="345.80" x2="72.54" y2="348.40" stroke="#000" stroke-width="1.5"/>
<line x1="77.93" y1="345.80" x2="77.93" y2="348.40" stroke="#000" stroke-width="1.5"/>
<line x1="83.32" y1="345.80" x2="83.32" y2="348.40" stroke="#000" stroke-width="1.5"/>
<line x1="88.71" y1="345.80" x2="88.71" y2="348.40" stroke="#000" stroke-width="1.5"/>
<line x1="94.10" y1="345.80" x2="94.10" y2="349.80" stroke="#000" stroke-width="1.5"/>
<line x1="99.49" y1="345.80" x2="99.49" y2="348.40" stroke="#000" stroke-width="1.5"/>
<line x1="104.88" y1="345.80" x2="104.88" y2="348.40" stroke="#000" stroke-width="1.5"/>
<line x1="110.27" y1="345.80" x2="110.27" y2="348.40" stroke="#000" stroke-width="1.5"/>
<line x1="115.66" y1="345.80" x2="115.66" y2="348.40" stroke="#000" stroke-width="1.5"/>
<line x1="121.05" y1="345.80" x2="121.05" y2="349.80" stroke="#000" stroke-width="1.5"/>
<line x1="126.44" y1="345.80" x2="126.44" y2="348.40" stroke="#000" stroke-width="1.5"/>
<line x1="131.83" y1="345.80" x2="131.83" y2="348.40" stroke="#000" stroke-width="1.5"/>
<line x1="137.22" y1="345.80" x2="137.22" y2="348.40" stroke="#000" stroke-width="1.5"/>
<line x1="142.61" y1="345.80" x2="142.61" y2="348.40" stroke="#000" stroke-width="1.5"/>
<line x1="148.00" y1="345.80" x2="148.00" y2="349.80" stroke="#000" stroke-width="1.5"/>
<line x1="153.39" y1="345.80" x2="153.39" y2="348.40" stroke="#000" stroke-width="1.5"/>
<line x1="158.78" y1="345.80" x2="158.78" y2="348.40" stroke="#000" stroke-width="1.5"/>
<line x1="164.17" y1="345.80" x2="164.17" y2="348.40" stroke="#000" stroke-width="1.5"/>
<line x1="169.56" y1="345.80" x2="169.56" y2="348.40" stroke="#000" stroke-width="1.5"/>
<line x1="174.95" y1="345.80" x2="174.95" y2="349.80" stroke="#000" stroke-width="1.5"/>
<line x1="180.34" y1="345.80" x2="180.34" y2="348.40" stroke="#000" stroke-width="1.5"/>
<line x1="185.73" y1="345.80" x2="185.73" y2="348.40" stroke="#000" stroke-width="1.5"/>
<line x1="191.12" y1="345.80" x2="191.12" y2="348.40" stroke="#000" stroke-width="1.5"/>
<line x1="196.51" y1="345.80" x2="196.51" y2="348.40" stroke="#000" stroke-width="1.5"/>
<line x1="201.90" y1="345.80" x2="201.90" y2="349.80" stroke="#000" stroke-width="1.5"/>
<path d="M40.79 336.60L50.39 336.60L45.59 345.00Z" fill="#f28a2a" stroke="#3a2000" stroke-width="1.2"/><path d="M46.18 333.60L55.78 333.60L50.98 342.00Z" fill="#f28a2a" stroke="#3a2000" stroke-width="1.2"/><path d="M51.57 329.60L61.17 329.60L56.37 338.00Z" fill="#f28a2a" stroke="#3a2000" stroke-width="1.2"/><path d="M56.96 325.85L66.56 325.85L61.76 334.25Z" fill="#f28a2a" stroke="#3a2000" stroke-width="1.2"/><path d="M62.35 322.10L71.95 322.10L67.15 330.50Z" fill="#f28a2a" stroke="#3a2000" stroke-width="1.2"/><path d="M67.74 319.10L77.34 319.10L72.54 327.50Z" fill="#f28a2a" stroke="#3a2000" stroke-width="1.2"/><path d="M73.13 312.85L82.73 312.85L77.93 321.25Z" fill="#f28a2a" stroke="#3a2000" stroke-width="1.2"/><path d="M78.52 310.35L88.12 310.35L83.32 318.75Z" fill="#f28a2a" stroke="#3a2000" stroke-width="1.2"/><path d="M83.91 308.60L93.51 308.60L88.71 317.00Z" fill="#f28a2a" stroke="#3a2000" stroke-width="1.2"/><path d="M89.30 307.35L98.90 307.35L94.10 315.75Z" fill="#f28a2a" stroke="#3a2000" stroke-width="1.2"/><path d="M94.69 306.10L104.29 306.10L99.49 314.50Z" fill="#f28a2a" stroke="#3a2000" stroke-width="1.2"/><path d="M100.08 304.10L109.68 304.10L104.88 312.50Z" fill="#f28a2a" stroke="#3a2000" stroke-width="1.2"/><path d="M105.47 303.60L115.07 303.60L110.27 312.00Z" fill="#f28a2a" stroke="#3a2000" stroke-width="1.2"/><path d="M110.86 304.10L120.46 304.10L115.66 312.50Z" fill="#f28a2a" stroke="#3a2000" stroke-width="1.2"/><path d="M116.25 304.10L125.85 304.10L121.05 312.50Z" fill="#f28a2a" stroke="#3a2000" stroke-width="1.2"/><path d="M121.64 304.10L131.24 304.10L126.44 312.50Z" fill="#f28a2a" stroke="#3a2000" stroke-width="1.2"/><path d="M127.03 304.60L136.63 304.60L131.83 313.00Z" fill="#f28a2a" stroke="#3a2000" stroke-width="1.2"/><path d="M132.42 305.35L142.02 305.35L137.22 313.75Z" fill="#f28a2a" stroke="#3a2000" stroke-width="1.2"/><path d="M137.81 305.98L147.41 305.98L142.61 314.38Z" fill="#f28a2a" stroke="#3a2000" stroke-width="1.2"/><path d="M143.20 306.60L152.80 306.60L148.00 315.00Z" fill="#f28a2a" stroke="#3a2000" stroke-width="1.2"/><path d="M148.59 306.98L158.19 306.98L153.39 315.38Z" fill="#f28a2a" stroke="#3a2000" stroke-width="1.2"/><path d="M153.98 307.35L163.58 307.35L158.78 315.75Z" fill="#f28a2a" stroke="#3a2000" stroke-width="1.2"/><path d="M159.37 307.35L168.97 307.35L164.17 315.75Z" fill="#f28a2a" stroke="#3a2000" stroke-width="1.2"/><path d="M164.76 307.35L174.36 307.35L169.56 315.75Z" fill="#f28a2a" stroke="#3a2000" stroke-width="1.2"/><path d="M170.15 307.35L179.75 307.35L174.95 315.75Z" fill="#f28a2a" stroke="#3a2000" stroke-width="1.2"/><path d="M175.54 307.35L185.14 307.35L180.34 315.75Z" fill="#f28a2a" stroke="#3a2000" stroke-width="1.2"/><path d="M180.93 307.35L190.53 307.35L185.73 315.75Z" fill="#f28a2a" stroke="#3a2000" stroke-width="1.2"/><path d="M186.32 307.35L195.92 307.35L191.12 315.75Z" fill="#f28a2a" stroke="#3a2000" stroke-width="1.2"/><path d="M191.71 307.35L201.31 307.35L196.51 315.75Z" fill="#f28a2a" stroke="#3a2000" stroke-width="1.2"/><path d="M197.10 307.35L206.70 307.35L201.90 315.75Z" fill="#f28a2a" stroke="#3a2000" stroke-width="1.2"/>
<line x1="42.79" y1="343.30" x2="48.39" y2="343.30" stroke="#ec9f50" stroke-width="1.7"/><line x1="48.18" y1="341.55" x2="53.78" y2="341.55" stroke="#ec9f50" stroke-width="1.7"/><line x1="56.37" y1="338.00" x2="56.37" y2="338.80" stroke="#ec9f50" stroke-width="1.7"/><line x1="53.57" y1="338.80" x2="59.17" y2="338.80" stroke="#ec9f50" stroke-width="1.7"/><line x1="61.76" y1="334.25" x2="61.76" y2="336.30" stroke="#ec9f50" stroke-width="1.7"/><line x1="58.96" y1="336.30" x2="64.56" y2="336.30" stroke="#ec9f50" stroke-width="1.7"/><line x1="67.15" y1="330.50" x2="67.15" y2="333.80" stroke="#ec9f50" stroke-width="1.7"/><line x1="64.35" y1="333.80" x2="69.95" y2="333.80" stroke="#ec9f50" stroke-width="1.7"/><line x1="72.54" y1="327.50" x2="72.54" y2="331.55" stroke="#ec9f50" stroke-width="1.7"/><line x1="69.74" y1="331.55" x2="75.34" y2="331.55" stroke="#ec9f50" stroke-width="1.7"/><line x1="77.93" y1="321.25" x2="77.93" y2="326.05" stroke="#ec9f50" stroke-width="1.7"/><line x1="75.13" y1="326.05" x2="80.73" y2="326.05" stroke="#ec9f50" stroke-width="1.7"/><line x1="83.32" y1="318.75" x2="83.32" y2="324.30" stroke="#ec9f50" stroke-width="1.7"/><line x1="80.52" y1="324.30" x2="86.12" y2="324.30" stroke="#ec9f50" stroke-width="1.7"/><line x1="88.71" y1="317.00" x2="88.71" y2="323.30" stroke="#ec9f50" stroke-width="1.7"/><line x1="85.91" y1="323.30" x2="91.51" y2="323.30" stroke="#ec9f50" stroke-width="1.7"/><line x1="94.10" y1="315.75" x2="94.10" y2="322.80" stroke="#ec9f50" stroke-width="1.7"/><line x1="91.30" y1="322.80" x2="96.90" y2="322.80" stroke="#ec9f50" stroke-width="1.7"/><line x1="99.49" y1="314.50" x2="99.49" y2="321.68" stroke="#ec9f50" stroke-width="1.7"/><line x1="96.69" y1="321.68" x2="102.29" y2="321.68" stroke="#ec9f50" stroke-width="1.7"/><line x1="104.88" y1="312.50" x2="104.88" y2="319.80" stroke="#ec9f50" stroke-width="1.7"/><line x1="102.08" y1="319.80" x2="107.68" y2="319.80" stroke="#ec9f50" stroke-width="1.7"/><line x1="110.27" y1="312.00" x2="110.27" y2="319.43" stroke="#ec9f50" stroke-width="1.7"/><line x1="107.47" y1="319.43" x2="113.07" y2="319.43" stroke="#ec9f50" stroke-width="1.7"/><line x1="115.66" y1="312.50" x2="115.66" y2="320.05" stroke="#ec9f50" stroke-width="1.7"/><line x1="112.86" y1="320.05" x2="118.46" y2="320.05" stroke="#ec9f50" stroke-width="1.7"/><line x1="121.05" y1="312.50" x2="121.05" y2="320.18" stroke="#ec9f50" stroke-width="1.7"/><line x1="118.25" y1="320.18" x2="123.85" y2="320.18" stroke="#ec9f50" stroke-width="1.7"/><line x1="126.44" y1="312.50" x2="126.44" y2="320.30" stroke="#ec9f50" stroke-width="1.7"/><line x1="123.64" y1="320.30" x2="129.24" y2="320.30" stroke="#ec9f50" stroke-width="1.7"/><line x1="131.83" y1="313.00" x2="131.83" y2="320.93" stroke="#ec9f50" stroke-width="1.7"/><line x1="129.03" y1="320.93" x2="134.63" y2="320.93" stroke="#ec9f50" stroke-width="1.7"/><line x1="137.22" y1="313.75" x2="137.22" y2="321.80" stroke="#ec9f50" stroke-width="1.7"/><line x1="134.42" y1="321.80" x2="140.02" y2="321.80" stroke="#ec9f50" stroke-width="1.7"/><line x1="142.61" y1="314.38" x2="142.61" y2="322.55" stroke="#ec9f50" stroke-width="1.7"/><line x1="139.81" y1="322.55" x2="145.41" y2="322.55" stroke="#ec9f50" stroke-width="1.7"/><line x1="148.00" y1="315.00" x2="148.00" y2="323.30" stroke="#ec9f50" stroke-width="1.7"/><line x1="145.20" y1="323.30" x2="150.80" y2="323.30" stroke="#ec9f50" stroke-width="1.7"/><line x1="153.39" y1="315.38" x2="153.39" y2="323.55" stroke="#ec9f50" stroke-width="1.7"/><line x1="150.59" y1="323.55" x2="156.19" y2="323.55" stroke="#ec9f50" stroke-width="1.7"/><line x1="158.78" y1="315.75" x2="158.78" y2="323.80" stroke="#ec9f50" stroke-width="1.7"/><line x1="155.98" y1="323.80" x2="161.58" y2="323.80" stroke="#ec9f50" stroke-width="1.7"/><line x1="164.17" y1="315.75" x2="164.17" y2="323.68" stroke="#ec9f50" stroke-width="1.7"/><line x1="161.37" y1="323.68" x2="166.97" y2="323.68" stroke="#ec9f50" stroke-width="1.7"/><line x1="169.56" y1="315.75" x2="169.56" y2="323.55" stroke="#ec9f50" stroke-width="1.7"/><line x1="166.76" y1="323.55" x2="172.36" y2="323.55" stroke="#ec9f50" stroke-width="1.7"/><line x1="174.95" y1="315.75" x2="174.95" y2="323.43" stroke="#ec9f50" stroke-width="1.7"/><line x1="172.15" y1="323.43" x2="177.75" y2="323.43" stroke="#ec9f50" stroke-width="1.7"/><line x1="180.34" y1="315.75" x2="180.34" y2="323.30" stroke="#ec9f50" stroke-width="1.7"/><line x1="177.54" y1="323.30" x2="183.14" y2="323.30" stroke="#ec9f50" stroke-width="1.7"/><line x1="185.73" y1="315.75" x2="185.73" y2="323.18" stroke="#ec9f50" stroke-width="1.7"/><line x1="182.93" y1="323.18" x2="188.53" y2="323.18" stroke="#ec9f50" stroke-width="1.7"/><line x1="191.12" y1="315.75" x2="191.12" y2="323.05" stroke="#ec9f50" stroke-width="1.7"/><line x1="188.32" y1="323.05" x2="193.92" y2="323.05" stroke="#ec9f50" stroke-width="1.7"/><line x1="196.51" y1="315.75" x2="196.51" y2="322.93" stroke="#ec9f50" stroke-width="1.7"/><line x1="193.71" y1="322.93" x2="199.31" y2="322.93" stroke="#ec9f50" stroke-width="1.7"/><line x1="201.90" y1="315.75" x2="201.90" y2="322.80" stroke="#ec9f50" stroke-width="1.7"/><line x1="199.10" y1="322.80" x2="204.70" y2="322.80" stroke="#ec9f50" stroke-width="1.7"/>
<circle cx="45.59" cy="336.30" r="4.2" fill="#f41414" stroke="#a80000" stroke-width="0.8"/><circle cx="50.98" cy="332.05" r="4.2" fill="#f41414" stroke="#a80000" stroke-width="0.8"/><circle cx="56.37" cy="327.05" r="4.2" fill="#f41414" stroke="#a80000" stroke-width="0.8"/><circle cx="61.76" cy="322.55" r="4.2" fill="#f41414" stroke="#a80000" stroke-width="0.8"/><circle cx="67.15" cy="317.55" r="4.2" fill="#f41414" stroke="#a80000" stroke-width="0.8"/><circle cx="72.54" cy="312.80" r="4.2" fill="#f41414" stroke="#a80000" stroke-width="0.8"/><circle cx="77.93" cy="307.80" r="4.2" fill="#f41414" stroke="#a80000" stroke-width="0.8"/><circle cx="83.32" cy="302.80" r="4.2" fill="#f41414" stroke="#a80000" stroke-width="0.8"/><circle cx="88.71" cy="298.80" r="4.2" fill="#f41414" stroke="#a80000" stroke-width="0.8"/><circle cx="94.10" cy="295.30" r="4.2" fill="#f41414" stroke="#a80000" stroke-width="0.8"/><circle cx="99.49" cy="293.30" r="4.2" fill="#f41414" stroke="#a80000" stroke-width="0.8"/><circle cx="104.88" cy="292.30" r="4.2" fill="#f41414" stroke="#a80000" stroke-width="0.8"/><circle cx="110.27" cy="292.05" r="4.2" fill="#f41414" stroke="#a80000" stroke-width="0.8"/><circle cx="115.66" cy="292.30" r="4.2" fill="#f41414" stroke="#a80000" stroke-width="0.8"/><circle cx="121.05" cy="293.80" r="4.2" fill="#f41414" stroke="#a80000" stroke-width="0.8"/><circle cx="126.44" cy="296.30" r="4.2" fill="#f41414" stroke="#a80000" stroke-width="0.8"/><circle cx="131.83" cy="297.55" r="4.2" fill="#f41414" stroke="#a80000" stroke-width="0.8"/><circle cx="137.22" cy="298.05" r="4.2" fill="#f41414" stroke="#a80000" stroke-width="0.8"/><circle cx="142.61" cy="297.30" r="4.2" fill="#f41414" stroke="#a80000" stroke-width="0.8"/><circle cx="148.00" cy="295.80" r="4.2" fill="#f41414" stroke="#a80000" stroke-width="0.8"/><circle cx="153.39" cy="294.55" r="4.2" fill="#f41414" stroke="#a80000" stroke-width="0.8"/><circle cx="158.78" cy="293.80" r="4.2" fill="#f41414" stroke="#a80000" stroke-width="0.8"/><circle cx="164.17" cy="293.80" r="4.2" fill="#f41414" stroke="#a80000" stroke-width="0.8"/><circle cx="169.56" cy="293.91" r="4.2" fill="#f41414" stroke="#a80000" stroke-width="0.8"/><circle cx="174.95" cy="294.01" r="4.2" fill="#f41414" stroke="#a80000" stroke-width="0.8"/><circle cx="180.34" cy="294.12" r="4.2" fill="#f41414" stroke="#a80000" stroke-width="0.8"/><circle cx="185.73" cy="294.23" r="4.2" fill="#f41414" stroke="#a80000" stroke-width="0.8"/><circle cx="191.12" cy="294.34" r="4.2" fill="#f41414" stroke="#a80000" stroke-width="0.8"/><circle cx="196.51" cy="294.44" r="4.2" fill="#f41414" stroke="#a80000" stroke-width="0.8"/><circle cx="201.90" cy="294.55" r="4.2" fill="#f41414" stroke="#a80000" stroke-width="0.8"/>
<path d="M45.59 324.30L50.19 332.30L40.99 332.30Z" fill="#fff" stroke="#000" stroke-width="1.5" stroke-linejoin="miter"/><path d="M50.98 312.55L55.58 320.55L46.38 320.55Z" fill="#fff" stroke="#000" stroke-width="1.5" stroke-linejoin="miter"/><path d="M56.37 302.05L60.97 310.05L51.77 310.05Z" fill="#fff" stroke="#000" stroke-width="1.5" stroke-linejoin="miter"/><path d="M61.76 292.55L66.36 300.55L57.16 300.55Z" fill="#fff" stroke="#000" stroke-width="1.5" stroke-linejoin="miter"/><path d="M67.15 284.30L71.75 292.30L62.55 292.30Z" fill="#fff" stroke="#000" stroke-width="1.5" stroke-linejoin="miter"/><path d="M72.54 273.80L77.14 281.80L67.94 281.80Z" fill="#fff" stroke="#000" stroke-width="1.5" stroke-linejoin="miter"/><path d="M77.93 262.80L82.53 270.80L73.33 270.80Z" fill="#fff" stroke="#000" stroke-width="1.5" stroke-linejoin="miter"/><path d="M83.32 253.80L87.92 261.80L78.72 261.80Z" fill="#fff" stroke="#000" stroke-width="1.5" stroke-linejoin="miter"/><path d="M88.71 244.80L93.31 252.80L84.11 252.80Z" fill="#fff" stroke="#000" stroke-width="1.5" stroke-linejoin="miter"/><path d="M94.10 234.30L98.70 242.30L89.50 242.30Z" fill="#fff" stroke="#000" stroke-width="1.5" stroke-linejoin="miter"/><path d="M99.49 232.80L104.09 240.80L94.89 240.80Z" fill="#fff" stroke="#000" stroke-width="1.5" stroke-linejoin="miter"/><path d="M104.88 231.05L109.48 239.05L100.28 239.05Z" fill="#fff" stroke="#000" stroke-width="1.5" stroke-linejoin="miter"/><path d="M110.27 221.30L114.87 229.30L105.67 229.30Z" fill="#fff" stroke="#000" stroke-width="1.5" stroke-linejoin="miter"/><path d="M115.66 226.80L120.26 234.80L111.06 234.80Z" fill="#fff" stroke="#000" stroke-width="1.5" stroke-linejoin="miter"/><path d="M121.05 236.80L125.65 244.80L116.45 244.80Z" fill="#fff" stroke="#000" stroke-width="1.5" stroke-linejoin="miter"/><path d="M126.44 241.80L131.04 249.80L121.84 249.80Z" fill="#fff" stroke="#000" stroke-width="1.5" stroke-linejoin="miter"/><path d="M131.83 246.80L136.43 254.80L127.23 254.80Z" fill="#fff" stroke="#000" stroke-width="1.5" stroke-linejoin="miter"/><path d="M137.22 250.55L141.82 258.55L132.62 258.55Z" fill="#fff" stroke="#000" stroke-width="1.5" stroke-linejoin="miter"/><path d="M142.61 253.05L147.21 261.05L138.01 261.05Z" fill="#fff" stroke="#000" stroke-width="1.5" stroke-linejoin="miter"/><path d="M148.00 255.05L152.60 263.05L143.40 263.05Z" fill="#fff" stroke="#000" stroke-width="1.5" stroke-linejoin="miter"/><path d="M153.39 256.80L157.99 264.80L148.79 264.80Z" fill="#fff" stroke="#000" stroke-width="1.5" stroke-linejoin="miter"/><path d="M158.78 258.80L163.38 266.80L154.18 266.80Z" fill="#fff" stroke="#000" stroke-width="1.5" stroke-linejoin="miter"/><path d="M164.17 260.55L168.77 268.55L159.57 268.55Z" fill="#fff" stroke="#000" stroke-width="1.5" stroke-linejoin="miter"/><path d="M169.56 262.30L174.16 270.30L164.96 270.30Z" fill="#fff" stroke="#000" stroke-width="1.5" stroke-linejoin="miter"/><path d="M174.95 263.80L179.55 271.80L170.35 271.80Z" fill="#fff" stroke="#000" stroke-width="1.5" stroke-linejoin="miter"/><path d="M180.34 265.30L184.94 273.30L175.74 273.30Z" fill="#fff" stroke="#000" stroke-width="1.5" stroke-linejoin="miter"/><path d="M185.73 266.80L190.33 274.80L181.13 274.80Z" fill="#fff" stroke="#000" stroke-width="1.5" stroke-linejoin="miter"/><path d="M191.12 268.05L195.72 276.05L186.52 276.05Z" fill="#fff" stroke="#000" stroke-width="1.5" stroke-linejoin="miter"/><path d="M196.51 269.30L201.11 277.30L191.91 277.30Z" fill="#fff" stroke="#000" stroke-width="1.5" stroke-linejoin="miter"/><path d="M201.90 270.30L206.50 278.30L197.30 278.30Z" fill="#fff" stroke="#000" stroke-width="1.5" stroke-linejoin="miter"/>
<line x1="42.79" y1="325.80" x2="48.39" y2="325.80" stroke="#000" stroke-width="1.3"/><line x1="48.18" y1="313.22" x2="53.78" y2="313.22" stroke="#000" stroke-width="1.3"/><line x1="56.37" y1="302.05" x2="56.37" y2="301.88" stroke="#000" stroke-width="1.3"/><line x1="53.57" y1="301.88" x2="59.17" y2="301.88" stroke="#000" stroke-width="1.3"/><line x1="61.76" y1="292.55" x2="61.76" y2="291.55" stroke="#000" stroke-width="1.3"/><line x1="58.96" y1="291.55" x2="64.56" y2="291.55" stroke="#000" stroke-width="1.3"/><line x1="67.15" y1="284.30" x2="67.15" y2="282.47" stroke="#000" stroke-width="1.3"/><line x1="64.35" y1="282.47" x2="69.95" y2="282.47" stroke="#000" stroke-width="1.3"/><line x1="72.54" y1="273.80" x2="72.54" y2="271.13" stroke="#000" stroke-width="1.3"/><line x1="69.74" y1="271.13" x2="75.34" y2="271.13" stroke="#000" stroke-width="1.3"/><line x1="77.93" y1="262.80" x2="77.93" y2="259.30" stroke="#000" stroke-width="1.3"/><line x1="75.13" y1="259.30" x2="80.73" y2="259.30" stroke="#000" stroke-width="1.3"/><line x1="83.32" y1="253.80" x2="83.32" y2="249.47" stroke="#000" stroke-width="1.3"/><line x1="80.52" y1="249.47" x2="86.12" y2="249.47" stroke="#000" stroke-width="1.3"/><line x1="88.71" y1="244.80" x2="88.71" y2="239.63" stroke="#000" stroke-width="1.3"/><line x1="85.91" y1="239.63" x2="91.51" y2="239.63" stroke="#000" stroke-width="1.3"/><line x1="94.10" y1="234.30" x2="94.10" y2="228.30" stroke="#000" stroke-width="1.3"/><line x1="91.30" y1="228.30" x2="96.90" y2="228.30" stroke="#000" stroke-width="1.3"/><line x1="99.49" y1="232.80" x2="99.49" y2="227.05" stroke="#000" stroke-width="1.3"/><line x1="96.69" y1="227.05" x2="102.29" y2="227.05" stroke="#000" stroke-width="1.3"/><line x1="104.88" y1="231.05" x2="104.88" y2="225.55" stroke="#000" stroke-width="1.3"/><line x1="102.08" y1="225.55" x2="107.68" y2="225.55" stroke="#000" stroke-width="1.3"/><line x1="110.27" y1="221.30" x2="110.27" y2="213.80" stroke="#000" stroke-width="1.3"/><line x1="107.47" y1="213.80" x2="113.07" y2="213.80" stroke="#000" stroke-width="1.3"/><line x1="115.66" y1="226.80" x2="115.66" y2="220.55" stroke="#000" stroke-width="1.3"/><line x1="112.86" y1="220.55" x2="118.46" y2="220.55" stroke="#000" stroke-width="1.3"/><line x1="121.05" y1="236.80" x2="121.05" y2="231.80" stroke="#000" stroke-width="1.3"/><line x1="118.25" y1="231.80" x2="123.85" y2="231.80" stroke="#000" stroke-width="1.3"/><line x1="126.44" y1="241.80" x2="126.44" y2="237.35" stroke="#000" stroke-width="1.3"/><line x1="123.64" y1="237.35" x2="129.24" y2="237.35" stroke="#000" stroke-width="1.3"/><line x1="131.83" y1="246.80" x2="131.83" y2="242.90" stroke="#000" stroke-width="1.3"/><line x1="129.03" y1="242.90" x2="134.63" y2="242.90" stroke="#000" stroke-width="1.3"/><line x1="137.22" y1="250.55" x2="137.22" y2="247.20" stroke="#000" stroke-width="1.3"/><line x1="134.42" y1="247.20" x2="140.02" y2="247.20" stroke="#000" stroke-width="1.3"/><line x1="142.61" y1="253.05" x2="142.61" y2="250.25" stroke="#000" stroke-width="1.3"/><line x1="139.81" y1="250.25" x2="145.41" y2="250.25" stroke="#000" stroke-width="1.3"/><line x1="148.00" y1="255.05" x2="148.00" y2="252.80" stroke="#000" stroke-width="1.3"/><line x1="145.20" y1="252.80" x2="150.80" y2="252.80" stroke="#000" stroke-width="1.3"/><line x1="153.39" y1="256.80" x2="153.39" y2="254.68" stroke="#000" stroke-width="1.3"/><line x1="150.59" y1="254.68" x2="156.19" y2="254.68" stroke="#000" stroke-width="1.3"/><line x1="158.78" y1="258.80" x2="158.78" y2="256.80" stroke="#000" stroke-width="1.3"/><line x1="155.98" y1="256.80" x2="161.58" y2="256.80" stroke="#000" stroke-width="1.3"/><line x1="164.17" y1="260.55" x2="164.17" y2="258.68" stroke="#000" stroke-width="1.3"/><line x1="161.37" y1="258.68" x2="166.97" y2="258.68" stroke="#000" stroke-width="1.3"/><line x1="169.56" y1="262.30" x2="169.56" y2="260.55" stroke="#000" stroke-width="1.3"/><line x1="166.76" y1="260.55" x2="172.36" y2="260.55" stroke="#000" stroke-width="1.3"/><line x1="174.95" y1="263.80" x2="174.95" y2="262.18" stroke="#000" stroke-width="1.3"/><line x1="172.15" y1="262.18" x2="177.75" y2="262.18" stroke="#000" stroke-width="1.3"/><line x1="180.34" y1="265.30" x2="180.34" y2="263.80" stroke="#000" stroke-width="1.3"/><line x1="177.54" y1="263.80" x2="183.14" y2="263.80" stroke="#000" stroke-width="1.3"/><line x1="185.73" y1="266.80" x2="185.73" y2="265.43" stroke="#000" stroke-width="1.3"/><line x1="182.93" y1="265.43" x2="188.53" y2="265.43" stroke="#000" stroke-width="1.3"/><line x1="191.12" y1="268.05" x2="191.12" y2="266.80" stroke="#000" stroke-width="1.3"/><line x1="188.32" y1="266.80" x2="193.92" y2="266.80" stroke="#000" stroke-width="1.3"/><line x1="196.51" y1="269.30" x2="196.51" y2="268.18" stroke="#000" stroke-width="1.3"/><line x1="193.71" y1="268.18" x2="199.31" y2="268.18" stroke="#000" stroke-width="1.3"/><line x1="201.90" y1="270.30" x2="201.90" y2="269.30" stroke="#000" stroke-width="1.3"/><line x1="199.10" y1="269.30" x2="204.70" y2="269.30" stroke="#000" stroke-width="1.3"/>
<line x1="42.79" y1="335.05" x2="48.39" y2="335.05" stroke="#e03838" stroke-width="1.5"/><line x1="48.18" y1="330.18" x2="53.78" y2="330.18" stroke="#e03838" stroke-width="1.5"/><line x1="53.57" y1="324.55" x2="59.17" y2="324.55" stroke="#e03838" stroke-width="1.5"/><line x1="58.96" y1="319.43" x2="64.56" y2="319.43" stroke="#e03838" stroke-width="1.5"/><line x1="64.35" y1="313.80" x2="69.95" y2="313.80" stroke="#e03838" stroke-width="1.5"/><line x1="72.54" y1="308.80" x2="72.54" y2="308.43" stroke="#e03838" stroke-width="1.5"/><line x1="69.74" y1="308.43" x2="75.34" y2="308.43" stroke="#e03838" stroke-width="1.5"/><line x1="77.93" y1="303.80" x2="77.93" y2="302.80" stroke="#e03838" stroke-width="1.5"/><line x1="75.13" y1="302.80" x2="80.73" y2="302.80" stroke="#e03838" stroke-width="1.5"/><line x1="83.32" y1="298.80" x2="83.32" y2="296.55" stroke="#e03838" stroke-width="1.5"/><line x1="80.52" y1="296.55" x2="86.12" y2="296.55" stroke="#e03838" stroke-width="1.5"/><line x1="88.71" y1="294.80" x2="88.71" y2="291.30" stroke="#e03838" stroke-width="1.5"/><line x1="85.91" y1="291.30" x2="91.51" y2="291.30" stroke="#e03838" stroke-width="1.5"/><line x1="94.10" y1="291.30" x2="94.10" y2="287.80" stroke="#e03838" stroke-width="1.5"/><line x1="91.30" y1="287.80" x2="96.90" y2="287.80" stroke="#e03838" stroke-width="1.5"/><line x1="99.49" y1="289.30" x2="99.49" y2="285.80" stroke="#e03838" stroke-width="1.5"/><line x1="96.69" y1="285.80" x2="102.29" y2="285.80" stroke="#e03838" stroke-width="1.5"/><line x1="104.88" y1="288.30" x2="104.88" y2="284.80" stroke="#e03838" stroke-width="1.5"/><line x1="102.08" y1="284.80" x2="107.68" y2="284.80" stroke="#e03838" stroke-width="1.5"/><line x1="110.27" y1="288.05" x2="110.27" y2="284.55" stroke="#e03838" stroke-width="1.5"/><line x1="107.47" y1="284.55" x2="113.07" y2="284.55" stroke="#e03838" stroke-width="1.5"/><line x1="115.66" y1="288.30" x2="115.66" y2="285.05" stroke="#e03838" stroke-width="1.5"/><line x1="112.86" y1="285.05" x2="118.46" y2="285.05" stroke="#e03838" stroke-width="1.5"/><line x1="121.05" y1="289.80" x2="121.05" y2="286.80" stroke="#e03838" stroke-width="1.5"/><line x1="118.25" y1="286.80" x2="123.85" y2="286.80" stroke="#e03838" stroke-width="1.5"/><line x1="126.44" y1="292.30" x2="126.44" y2="290.05" stroke="#e03838" stroke-width="1.5"/><line x1="123.64" y1="290.05" x2="129.24" y2="290.05" stroke="#e03838" stroke-width="1.5"/><line x1="131.83" y1="293.55" x2="131.83" y2="291.30" stroke="#e03838" stroke-width="1.5"/><line x1="129.03" y1="291.30" x2="134.63" y2="291.30" stroke="#e03838" stroke-width="1.5"/><line x1="137.22" y1="294.05" x2="137.22" y2="291.80" stroke="#e03838" stroke-width="1.5"/><line x1="134.42" y1="291.80" x2="140.02" y2="291.80" stroke="#e03838" stroke-width="1.5"/><line x1="142.61" y1="293.30" x2="142.61" y2="291.05" stroke="#e03838" stroke-width="1.5"/><line x1="139.81" y1="291.05" x2="145.41" y2="291.05" stroke="#e03838" stroke-width="1.5"/><line x1="148.00" y1="291.80" x2="148.00" y2="289.55" stroke="#e03838" stroke-width="1.5"/><line x1="145.20" y1="289.55" x2="150.80" y2="289.55" stroke="#e03838" stroke-width="1.5"/><line x1="153.39" y1="290.55" x2="153.39" y2="286.43" stroke="#e03838" stroke-width="1.5"/><line x1="150.59" y1="286.43" x2="156.19" y2="286.43" stroke="#e03838" stroke-width="1.5"/><line x1="158.78" y1="289.80" x2="158.78" y2="283.80" stroke="#e03838" stroke-width="1.5"/><line x1="155.98" y1="283.80" x2="161.58" y2="283.80" stroke="#e03838" stroke-width="1.5"/><line x1="164.17" y1="289.80" x2="164.17" y2="283.74" stroke="#e03838" stroke-width="1.5"/><line x1="161.37" y1="283.74" x2="166.97" y2="283.74" stroke="#e03838" stroke-width="1.5"/><line x1="169.56" y1="289.91" x2="169.56" y2="283.78" stroke="#e03838" stroke-width="1.5"/><line x1="166.76" y1="283.78" x2="172.36" y2="283.78" stroke="#e03838" stroke-width="1.5"/><line x1="174.95" y1="290.01" x2="174.95" y2="283.83" stroke="#e03838" stroke-width="1.5"/><line x1="172.15" y1="283.83" x2="177.75" y2="283.83" stroke="#e03838" stroke-width="1.5"/><line x1="180.34" y1="290.12" x2="180.34" y2="283.87" stroke="#e03838" stroke-width="1.5"/><line x1="177.54" y1="283.87" x2="183.14" y2="283.87" stroke="#e03838" stroke-width="1.5"/><line x1="185.73" y1="290.23" x2="185.73" y2="283.92" stroke="#e03838" stroke-width="1.5"/><line x1="182.93" y1="283.92" x2="188.53" y2="283.92" stroke="#e03838" stroke-width="1.5"/><line x1="191.12" y1="290.34" x2="191.12" y2="283.96" stroke="#e03838" stroke-width="1.5"/><line x1="188.32" y1="283.96" x2="193.92" y2="283.96" stroke="#e03838" stroke-width="1.5"/><line x1="196.51" y1="290.44" x2="196.51" y2="284.01" stroke="#e03838" stroke-width="1.5"/><line x1="193.71" y1="284.01" x2="199.31" y2="284.01" stroke="#e03838" stroke-width="1.5"/><line x1="201.90" y1="290.55" x2="201.90" y2="284.05" stroke="#e03838" stroke-width="1.5"/><line x1="199.10" y1="284.05" x2="204.70" y2="284.05" stroke="#e03838" stroke-width="1.5"/>
<rect x="41.39" y="336.60" width="8.4" height="8.4" fill="#0a10f0" stroke="#0000a0" stroke-width="0.6"/><rect x="46.78" y="333.60" width="8.4" height="8.4" fill="#0a10f0" stroke="#0000a0" stroke-width="0.6"/><rect x="52.17" y="329.60" width="8.4" height="8.4" fill="#0a10f0" stroke="#0000a0" stroke-width="0.6"/><rect x="57.56" y="324.85" width="8.4" height="8.4" fill="#0a10f0" stroke="#0000a0" stroke-width="0.6"/><rect x="62.95" y="320.10" width="8.4" height="8.4" fill="#0a10f0" stroke="#0000a0" stroke-width="0.6"/><rect x="68.34" y="315.85" width="8.4" height="8.4" fill="#0a10f0" stroke="#0000a0" stroke-width="0.6"/><rect x="73.73" y="312.10" width="8.4" height="8.4" fill="#0a10f0" stroke="#0000a0" stroke-width="0.6"/><rect x="79.12" y="308.35" width="8.4" height="8.4" fill="#0a10f0" stroke="#0000a0" stroke-width="0.6"/><rect x="84.51" y="304.60" width="8.4" height="8.4" fill="#0a10f0" stroke="#0000a0" stroke-width="0.6"/><rect x="89.90" y="301.60" width="8.4" height="8.4" fill="#0a10f0" stroke="#0000a0" stroke-width="0.6"/><rect x="95.29" y="298.60" width="8.4" height="8.4" fill="#0a10f0" stroke="#0000a0" stroke-width="0.6"/><rect x="100.68" y="296.10" width="8.4" height="8.4" fill="#0a10f0" stroke="#0000a0" stroke-width="0.6"/><rect x="106.07" y="294.60" width="8.4" height="8.4" fill="#0a10f0" stroke="#0000a0" stroke-width="0.6"/><rect x="111.46" y="294.10" width="8.4" height="8.4" fill="#0a10f0" stroke="#0000a0" stroke-width="0.6"/><rect x="116.85" y="295.10" width="8.4" height="8.4" fill="#0a10f0" stroke="#0000a0" stroke-width="0.6"/><rect x="122.24" y="298.60" width="8.4" height="8.4" fill="#0a10f0" stroke="#0000a0" stroke-width="0.6"/><rect x="127.63" y="301.60" width="8.4" height="8.4" fill="#0a10f0" stroke="#0000a0" stroke-width="0.6"/><rect x="133.02" y="303.60" width="8.4" height="8.4" fill="#0a10f0" stroke="#0000a0" stroke-width="0.6"/><rect x="138.41" y="305.10" width="8.4" height="8.4" fill="#0a10f0" stroke="#0000a0" stroke-width="0.6"/><rect x="143.80" y="306.10" width="8.4" height="8.4" fill="#0a10f0" stroke="#0000a0" stroke-width="0.6"/><rect x="149.19" y="307.10" width="8.4" height="8.4" fill="#0a10f0" stroke="#0000a0" stroke-width="0.6"/><rect x="154.58" y="308.35" width="8.4" height="8.4" fill="#0a10f0" stroke="#0000a0" stroke-width="0.6"/><rect x="159.97" y="309.60" width="8.4" height="8.4" fill="#0a10f0" stroke="#0000a0" stroke-width="0.6"/><rect x="165.36" y="311.10" width="8.4" height="8.4" fill="#0a10f0" stroke="#0000a0" stroke-width="0.6"/><rect x="170.75" y="312.35" width="8.4" height="8.4" fill="#0a10f0" stroke="#0000a0" stroke-width="0.6"/><rect x="176.14" y="313.60" width="8.4" height="8.4" fill="#0a10f0" stroke="#0000a0" stroke-width="0.6"/><rect x="181.53" y="314.60" width="8.4" height="8.4" fill="#0a10f0" stroke="#0000a0" stroke-width="0.6"/><rect x="186.92" y="315.10" width="8.4" height="8.4" fill="#0a10f0" stroke="#0000a0" stroke-width="0.6"/><rect x="192.31" y="315.60" width="8.4" height="8.4" fill="#0a10f0" stroke="#0000a0" stroke-width="0.6"/><rect x="197.70" y="315.85" width="8.4" height="8.4" fill="#0a10f0" stroke="#0000a0" stroke-width="0.6"/>
<line x1="42.79" y1="339.55" x2="48.39" y2="339.55" stroke="#2030e0" stroke-width="1.3"/><line x1="48.18" y1="336.51" x2="53.78" y2="336.51" stroke="#2030e0" stroke-width="1.3"/><line x1="53.57" y1="332.46" x2="59.17" y2="332.46" stroke="#2030e0" stroke-width="1.3"/><line x1="58.96" y1="327.67" x2="64.56" y2="327.67" stroke="#2030e0" stroke-width="1.3"/><line x1="64.35" y1="322.88" x2="69.95" y2="322.88" stroke="#2030e0" stroke-width="1.3"/><line x1="69.74" y1="318.58" x2="75.34" y2="318.58" stroke="#2030e0" stroke-width="1.3"/><line x1="75.13" y1="314.79" x2="80.73" y2="314.79" stroke="#2030e0" stroke-width="1.3"/><line x1="80.52" y1="311.00" x2="86.12" y2="311.00" stroke="#2030e0" stroke-width="1.3"/><line x1="85.91" y1="307.21" x2="91.51" y2="307.21" stroke="#2030e0" stroke-width="1.3"/><line x1="91.30" y1="304.16" x2="96.90" y2="304.16" stroke="#2030e0" stroke-width="1.3"/><line x1="96.69" y1="301.12" x2="102.29" y2="301.12" stroke="#2030e0" stroke-width="1.3"/><line x1="102.08" y1="298.58" x2="107.68" y2="298.58" stroke="#2030e0" stroke-width="1.3"/><line x1="107.47" y1="297.03" x2="113.07" y2="297.03" stroke="#2030e0" stroke-width="1.3"/><line x1="112.86" y1="296.49" x2="118.46" y2="296.49" stroke="#2030e0" stroke-width="1.3"/><line x1="118.25" y1="297.45" x2="123.85" y2="297.45" stroke="#2030e0" stroke-width="1.3"/><line x1="123.64" y1="300.90" x2="129.24" y2="300.90" stroke="#2030e0" stroke-width="1.3"/><line x1="129.03" y1="303.86" x2="134.63" y2="303.86" stroke="#2030e0" stroke-width="1.3"/><line x1="134.42" y1="305.82" x2="140.02" y2="305.82" stroke="#2030e0" stroke-width="1.3"/><line x1="139.81" y1="307.27" x2="145.41" y2="307.27" stroke="#2030e0" stroke-width="1.3"/><line x1="145.20" y1="308.23" x2="150.80" y2="308.23" stroke="#2030e0" stroke-width="1.3"/><line x1="150.59" y1="309.19" x2="156.19" y2="309.19" stroke="#2030e0" stroke-width="1.3"/><line x1="155.98" y1="310.39" x2="161.58" y2="310.39" stroke="#2030e0" stroke-width="1.3"/><line x1="161.37" y1="311.60" x2="166.97" y2="311.60" stroke="#2030e0" stroke-width="1.3"/><line x1="166.76" y1="313.06" x2="172.36" y2="313.06" stroke="#2030e0" stroke-width="1.3"/><line x1="172.15" y1="314.27" x2="177.75" y2="314.27" stroke="#2030e0" stroke-width="1.3"/><line x1="177.54" y1="315.47" x2="183.14" y2="315.47" stroke="#2030e0" stroke-width="1.3"/><line x1="182.93" y1="316.43" x2="188.53" y2="316.43" stroke="#2030e0" stroke-width="1.3"/><line x1="188.32" y1="316.89" x2="193.92" y2="316.89" stroke="#2030e0" stroke-width="1.3"/><line x1="193.71" y1="317.34" x2="199.31" y2="317.34" stroke="#2030e0" stroke-width="1.3"/><line x1="199.10" y1="317.55" x2="204.70" y2="317.55" stroke="#2030e0" stroke-width="1.3"/>
<text x="40.2" y="365.1" font-size="13" text-anchor="middle" fill="#000" stroke="#000" stroke-width="0.4" font-weight="bold">0</text>
<text x="67.15" y="365.1" font-size="13" text-anchor="middle" fill="#000" stroke="#000" stroke-width="0.4" font-weight="bold">10</text>
<text x="94.1" y="365.1" font-size="13" text-anchor="middle" fill="#000" stroke="#000" stroke-width="0.4" font-weight="bold">20</text>
<text x="121.05" y="365.1" font-size="13" text-anchor="middle" fill="#000" stroke="#000" stroke-width="0.4" font-weight="bold">30</text>
<text x="148.0" y="365.1" font-size="13" text-anchor="middle" fill="#000" stroke="#000" stroke-width="0.4" font-weight="bold">40</text>
<text x="174.95" y="365.1" font-size="13" text-anchor="middle" fill="#000" stroke="#000" stroke-width="0.4" font-weight="bold">50</text>
<text x="201.89999999999998" y="365.1" font-size="13" text-anchor="middle" fill="#000" stroke="#000" stroke-width="0.4" font-weight="bold">60</text>
<text x="130.9" y="383.8" font-size="14" text-anchor="middle" fill="#000" stroke="#000" stroke-width="0.4" font-weight="bold" textLength="67.6" lengthAdjust="spacingAndGlyphs">Time (min)</text>
<text x="16.3" y="267.3" font-size="13" text-anchor="middle" fill="#000" stroke="#000" stroke-width="0.4" font-weight="bold" transform="rotate(-90 16.3 267.3)" textLength="112" lengthAdjust="spacingAndGlyphs">Relative Intensity</text>
<text x="53.6" y="215.8" font-size="26" text-anchor="start" fill="#000" stroke="#000" stroke-width="0.4" font-weight="bold">B</text>
<path d="M286.50 15.90H336.10V30.47H352.70V45.04H359.60V59.61H362.20V74.18H366.70V88.75H376.40V103.32H383.10V117.89H401.50V132.46H410.00V147.03H502" fill="none" stroke="#1515c8" stroke-width="2" stroke-dasharray="2.2 1.6"/>
<path d="M286.50 15.90H351.90V34.11H361.40V52.32H365.30V70.54H371.60V88.75H380.00V125.17H502" fill="none" stroke="#e02828" stroke-width="1.8" stroke-dasharray="5.5 3"/>
<path d="M286.50 15.90H349.40V34.11H356.30V52.32H366.80V70.54H370.00V88.75H372.80V106.96H391.50V125.17H419.00V143.39H504.8" fill="none" stroke="#1c8a2a" stroke-width="2"/>
<path d="M286.50 15.90H340.20V29.15H342.40V42.39H345.30V55.64H348.30V68.88H350.40V95.37H351.90V108.62H354.40V121.86H366.50V135.11H367.60V148.35H368.60V161.60" fill="none" stroke="#000" stroke-width="2.6"/>
<line x1="286.50" y1="15.40" x2="286.50" y2="166.20" stroke="#000" stroke-width="2.0"/>
<line x1="281.90" y1="161.60" x2="286.50" y2="161.60" stroke="#000" stroke-width="2.0"/>
<text x="280.8" y="165.5" font-size="11" text-anchor="end" fill="#000" stroke="#000" stroke-width="0.4" font-weight="bold">0</text>
<line x1="281.90" y1="132.46" x2="286.50" y2="132.46" stroke="#000" stroke-width="2.0"/>
<text x="280.8" y="136.35999999999999" font-size="11" text-anchor="end" fill="#000" stroke="#000" stroke-width="0.4" font-weight="bold">20</text>
<line x1="281.90" y1="103.32" x2="286.50" y2="103.32" stroke="#000" stroke-width="2.0"/>
<text x="280.8" y="107.22" font-size="11" text-anchor="end" fill="#000" stroke="#000" stroke-width="0.4" font-weight="bold">40</text>
<line x1="281.90" y1="74.18" x2="286.50" y2="74.18" stroke="#000" stroke-width="2.0"/>
<text x="280.8" y="78.08" font-size="11" text-anchor="end" fill="#000" stroke="#000" stroke-width="0.4" font-weight="bold">60</text>
<line x1="281.90" y1="45.04" x2="286.50" y2="45.04" stroke="#000" stroke-width="2.0"/>
<text x="280.8" y="48.93999999999999" font-size="11" text-anchor="end" fill="#000" stroke="#000" stroke-width="0.4" font-weight="bold">80</text>
<line x1="281.90" y1="15.90" x2="286.50" y2="15.90" stroke="#000" stroke-width="2.0"/>
<text x="280.8" y="19.799999999999976" font-size="11" text-anchor="end" fill="#000" stroke="#000" stroke-width="0.4" font-weight="bold">100</text>
<line x1="286.50" y1="161.60" x2="504.60" y2="161.60" stroke="#000" stroke-width="2.0"/>
<line x1="359.13" y1="161.60" x2="359.13" y2="166.20" stroke="#000" stroke-width="2.0"/>
<line x1="431.77" y1="161.60" x2="431.77" y2="166.20" stroke="#000" stroke-width="2.0"/>
<line x1="504.40" y1="161.60" x2="504.40" y2="166.20" stroke="#000" stroke-width="2.0"/>
<text x="286.5" y="178.0" font-size="11" text-anchor="middle" fill="#000" stroke="#000" stroke-width="0.4" font-weight="bold">0</text>
<text x="359.1333333333333" y="178.0" font-size="11" text-anchor="middle" fill="#000" stroke="#000" stroke-width="0.4" font-weight="bold">600</text>
<text x="431.76666666666665" y="178.0" font-size="11" text-anchor="middle" fill="#000" stroke="#000" stroke-width="0.4" font-weight="bold">1200</text>
<text x="504.4" y="178.0" font-size="11" text-anchor="middle" fill="#000" stroke="#000" stroke-width="0.4" font-weight="bold">1800</text>
<text x="396.3" y="193.5" font-size="12" text-anchor="middle" fill="#000" stroke="#000" stroke-width="0.4" font-weight="bold" textLength="45.7" lengthAdjust="spacingAndGlyphs">Time (s)</text>
<text x="256.4" y="88.7" font-size="12" text-anchor="middle" fill="#000" stroke="#000" stroke-width="0.4" font-weight="bold" transform="rotate(-90 256.4 88.7)" textLength="83.3" lengthAdjust="spacingAndGlyphs">Percent Patent</text>
<text x="238.0" y="27.6" font-size="25.5" text-anchor="start" fill="#000" stroke="#000" stroke-width="0.4" font-weight="bold">C</text>
<line x1="404.90" y1="26.10" x2="418.50" y2="26.10" stroke="#000" stroke-width="2.6"/>
<line x1="404.9" y1="40.6" x2="418.5" y2="40.6" stroke="#e02828" stroke-width="2" stroke-dasharray="5 2.3"/>
<line x1="404.90" y1="55.00" x2="418.50" y2="55.00" stroke="#1c8a2a" stroke-width="2.2"/>
<line x1="404.9" y1="68.9" x2="418.5" y2="68.9" stroke="#1515c8" stroke-width="2.2" stroke-dasharray="2.6 2"/>
<text x="423.1" y="31.0" font-size="10" text-anchor="start" fill="#000" stroke="#000" stroke-width="0.15" font-weight="bold" textLength="28.2" lengthAdjust="spacingAndGlyphs">saline</text>
<text x="423.1" y="45.0" font-size="10" text-anchor="start" fill="#d42828" stroke="#d42828" stroke-width="0.15" font-weight="bold" textLength="48.4" lengthAdjust="spacingAndGlyphs">dendrimer</text>
<text x="423.1" y="58.9" font-size="10" text-anchor="start" fill="#1c8a2a" stroke="#1c8a2a" stroke-width="0.15" font-weight="bold" textLength="87.4" lengthAdjust="spacingAndGlyphs">polyethyleneimine</text>
<text x="423.1" y="72.9" font-size="10" text-anchor="start" fill="#1a1ab8" stroke="#1a1ab8" stroke-width="0.15" font-weight="bold" textLength="58.9" lengthAdjust="spacingAndGlyphs">polymyxin B</text>
<line x1="298.66" y1="317.84" x2="298.66" y2="331.07" stroke="#000" stroke-width="1.5"/>
<line x1="294.46" y1="317.84" x2="302.86" y2="317.84" stroke="#000" stroke-width="1.8"/>
<line x1="298.66" y1="335.62" x2="298.66" y2="337.82" stroke="#000" stroke-width="1.5"/>
<line x1="294.46" y1="337.82" x2="302.86" y2="337.82" stroke="#000" stroke-width="1.8"/>
<rect x="291.46" y="331.07" width="14.4" height="4.55" fill="#fff" stroke="#000" stroke-width="1.8"/>
<line x1="291.46" y1="333.37" x2="305.86" y2="333.37" stroke="#000" stroke-width="1.8"/>
<path d="M298.66 327.32L301.96 332.82L295.36 332.82Z" fill="none" stroke="#000" stroke-width="1.3"/>
<line x1="294.86" y1="350.40" x2="302.46" y2="350.40" stroke="#000" stroke-width="2"/>
<line x1="294.86" y1="365.30" x2="302.46" y2="365.30" stroke="#000" stroke-width="2"/>
<line x1="322.58" y1="322.39" x2="322.58" y2="331.12" stroke="#e02020" stroke-width="1.5"/>
<line x1="318.38" y1="322.39" x2="326.78" y2="322.39" stroke="#e02020" stroke-width="1.8"/>
<line x1="322.58" y1="338.01" x2="322.58" y2="338.76" stroke="#e02020" stroke-width="1.5"/>
<line x1="318.38" y1="338.76" x2="326.78" y2="338.76" stroke="#e02020" stroke-width="1.8"/>
<rect x="315.38" y="331.12" width="14.4" height="6.89" fill="#fff" stroke="#e02020" stroke-width="1.8"/>
<line x1="315.38" y1="334.07" x2="329.78" y2="334.07" stroke="#e02020" stroke-width="1.8"/>
<path d="M322.58 324.51L325.88 330.01L319.28 330.01Z" fill="none" stroke="#e02020" stroke-width="1.3"/>
<line x1="318.98" y1="350.40" x2="326.18" y2="350.40" stroke="#e02020" stroke-width="2"/>
<line x1="322.58" y1="346.80" x2="322.58" y2="354.00" stroke="#e02020" stroke-width="2"/>
<line x1="318.78" y1="365.30" x2="326.38" y2="365.30" stroke="#000" stroke-width="2"/>
<line x1="346.51" y1="309.92" x2="346.51" y2="315.22" stroke="#1515d0" stroke-width="1.5"/>
<line x1="342.31" y1="309.92" x2="350.71" y2="309.92" stroke="#1515d0" stroke-width="1.8"/>
<line x1="346.51" y1="336.79" x2="346.51" y2="337.82" stroke="#1515d0" stroke-width="1.5"/>
<line x1="342.31" y1="337.82" x2="350.71" y2="337.82" stroke="#1515d0" stroke-width="1.8"/>
<rect x="339.31" y="315.22" width="14.4" height="21.57" fill="#fff" stroke="#1515d0" stroke-width="1.8"/>
<line x1="339.31" y1="333.98" x2="353.71" y2="333.98" stroke="#1515d0" stroke-width="1.8"/>
<path d="M346.51 323.01L349.81 328.51L343.21 328.51Z" fill="none" stroke="#1515d0" stroke-width="1.3"/>
<line x1="342.71" y1="350.40" x2="350.31" y2="350.40" stroke="#000" stroke-width="2"/>
<line x1="342.91" y1="365.30" x2="350.11" y2="365.30" stroke="#1515d0" stroke-width="2"/>
<line x1="346.51" y1="361.70" x2="346.51" y2="368.90" stroke="#1515d0" stroke-width="2"/>
<line x1="370.43" y1="276.06" x2="370.43" y2="284.22" stroke="#000" stroke-width="1.5"/>
<line x1="366.23" y1="276.06" x2="374.63" y2="276.06" stroke="#000" stroke-width="1.8"/>
<line x1="370.43" y1="317.80" x2="370.43" y2="326.01" stroke="#000" stroke-width="1.5"/>
<line x1="366.23" y1="326.01" x2="374.63" y2="326.01" stroke="#000" stroke-width="1.8"/>
<rect x="363.23" y="284.22" width="14.4" height="33.58" fill="#fff" stroke="#000" stroke-width="1.8"/>
<line x1="363.23" y1="310.90" x2="377.63" y2="310.90" stroke="#000" stroke-width="1.8"/>
<path d="M370.43 294.96L373.73 300.46L367.13 300.46Z" fill="none" stroke="#000" stroke-width="1.3"/>
<line x1="366.63" y1="350.40" x2="374.23" y2="350.40" stroke="#000" stroke-width="2"/>
<line x1="366.63" y1="365.30" x2="374.23" y2="365.30" stroke="#000" stroke-width="2"/>
<line x1="394.35" y1="320.47" x2="394.35" y2="322.58" stroke="#e02020" stroke-width="1.5"/>
<line x1="390.15" y1="320.47" x2="398.55" y2="320.47" stroke="#e02020" stroke-width="1.8"/>
<line x1="394.35" y1="336.32" x2="394.35" y2="338.76" stroke="#e02020" stroke-width="1.5"/>
<line x1="390.15" y1="338.76" x2="398.55" y2="338.76" stroke="#e02020" stroke-width="1.8"/>
<rect x="387.15" y="322.58" width="14.4" height="13.74" fill="#fff" stroke="#e02020" stroke-width="1.8"/>
<line x1="387.15" y1="329.71" x2="401.55" y2="329.71" stroke="#e02020" stroke-width="1.8"/>
<path d="M394.35 323.01L397.65 328.51L391.05 328.51Z" fill="none" stroke="#e02020" stroke-width="1.3"/>
<line x1="390.75" y1="350.40" x2="397.95" y2="350.40" stroke="#e02020" stroke-width="2"/>
<line x1="394.35" y1="346.80" x2="394.35" y2="354.00" stroke="#e02020" stroke-width="2"/>
<line x1="390.55" y1="365.30" x2="398.15" y2="365.30" stroke="#000" stroke-width="2"/>
<line x1="418.27" y1="237.46" x2="418.27" y2="251.20" stroke="#1515d0" stroke-width="1.5"/>
<line x1="414.07" y1="237.46" x2="422.47" y2="237.46" stroke="#1515d0" stroke-width="1.8"/>
<line x1="418.27" y1="331.40" x2="418.27" y2="333.42" stroke="#1515d0" stroke-width="1.5"/>
<line x1="414.07" y1="333.42" x2="422.47" y2="333.42" stroke="#1515d0" stroke-width="1.8"/>
<rect x="411.07" y="251.20" width="14.4" height="80.20" fill="#fff" stroke="#1515d0" stroke-width="1.8"/>
<line x1="411.07" y1="310.29" x2="425.47" y2="310.29" stroke="#1515d0" stroke-width="1.8"/>
<path d="M418.27 287.92L421.57 293.42L414.97 293.42Z" fill="none" stroke="#1515d0" stroke-width="1.3"/>
<line x1="414.47" y1="350.40" x2="422.07" y2="350.40" stroke="#000" stroke-width="2"/>
<line x1="414.67" y1="365.30" x2="421.87" y2="365.30" stroke="#1515d0" stroke-width="2"/>
<line x1="418.27" y1="361.70" x2="418.27" y2="368.90" stroke="#1515d0" stroke-width="2"/>
<line x1="442.19" y1="273.71" x2="442.19" y2="278.50" stroke="#000" stroke-width="1.5"/>
<line x1="437.99" y1="273.71" x2="446.39" y2="273.71" stroke="#000" stroke-width="1.8"/>
<line x1="442.19" y1="310.62" x2="442.19" y2="318.59" stroke="#000" stroke-width="1.5"/>
<line x1="437.99" y1="318.59" x2="446.39" y2="318.59" stroke="#000" stroke-width="1.8"/>
<rect x="434.99" y="278.50" width="14.4" height="32.13" fill="#fff" stroke="#000" stroke-width="1.8"/>
<line x1="434.99" y1="291.39" x2="449.39" y2="291.39" stroke="#000" stroke-width="1.8"/>
<path d="M442.19 292.14L445.49 297.64L438.89 297.64Z" fill="none" stroke="#000" stroke-width="1.3"/>
<line x1="438.39" y1="350.40" x2="445.99" y2="350.40" stroke="#000" stroke-width="2"/>
<line x1="438.39" y1="365.30" x2="445.99" y2="365.30" stroke="#000" stroke-width="2"/>
<line x1="466.12" y1="277.42" x2="466.12" y2="283.61" stroke="#e02020" stroke-width="1.5"/>
<line x1="461.92" y1="277.42" x2="470.32" y2="277.42" stroke="#e02020" stroke-width="1.8"/>
<line x1="466.12" y1="325.82" x2="466.12" y2="329.94" stroke="#e02020" stroke-width="1.5"/>
<line x1="461.92" y1="329.94" x2="470.32" y2="329.94" stroke="#e02020" stroke-width="1.8"/>
<rect x="458.92" y="283.61" width="14.4" height="42.21" fill="#fff" stroke="#e02020" stroke-width="1.8"/>
<line x1="458.92" y1="319.20" x2="473.32" y2="319.20" stroke="#e02020" stroke-width="1.8"/>
<path d="M466.12 299.79L469.42 305.29L462.82 305.29Z" fill="none" stroke="#e02020" stroke-width="1.3"/>
<line x1="462.52" y1="350.40" x2="469.72" y2="350.40" stroke="#e02020" stroke-width="2"/>
<line x1="466.12" y1="346.80" x2="466.12" y2="354.00" stroke="#e02020" stroke-width="2"/>
<line x1="462.32" y1="365.30" x2="469.92" y2="365.30" stroke="#000" stroke-width="2"/>
<line x1="490.04" y1="224.51" x2="490.04" y2="258.00" stroke="#1515d0" stroke-width="1.5"/>
<line x1="485.84" y1="224.51" x2="494.24" y2="224.51" stroke="#1515d0" stroke-width="1.8"/>
<line x1="490.04" y1="314.84" x2="490.04" y2="320.47" stroke="#1515d0" stroke-width="1.5"/>
<line x1="485.84" y1="320.47" x2="494.24" y2="320.47" stroke="#1515d0" stroke-width="1.8"/>
<rect x="482.84" y="258.00" width="14.4" height="56.84" fill="#fff" stroke="#1515d0" stroke-width="1.8"/>
<line x1="482.84" y1="299.83" x2="497.24" y2="299.83" stroke="#1515d0" stroke-width="1.8"/>
<path d="M490.04 278.54L493.34 284.04L486.74 284.04Z" fill="none" stroke="#1515d0" stroke-width="1.3"/>
<line x1="486.24" y1="350.40" x2="493.84" y2="350.40" stroke="#000" stroke-width="2"/>
<line x1="486.44" y1="365.30" x2="493.64" y2="365.30" stroke="#1515d0" stroke-width="2"/>
<line x1="490.04" y1="361.70" x2="490.04" y2="368.90" stroke="#1515d0" stroke-width="2"/>
<rect x="286.70" y="222.45" width="215.30" height="117.25" fill="none" stroke="#000" stroke-width="2"/>
<line x1="358.47" y1="222.45" x2="358.47" y2="372.20" stroke="#000" stroke-width="1.6"/>
<line x1="430.23" y1="222.45" x2="430.23" y2="372.20" stroke="#000" stroke-width="1.6"/>
<line x1="282.20" y1="339.70" x2="286.70" y2="339.70" stroke="#000" stroke-width="1.8"/>
<line x1="284.30" y1="316.25" x2="286.70" y2="316.25" stroke="#000" stroke-width="1.8"/>
<line x1="282.20" y1="292.80" x2="286.70" y2="292.80" stroke="#000" stroke-width="1.8"/>
<line x1="284.30" y1="269.35" x2="286.70" y2="269.35" stroke="#000" stroke-width="1.8"/>
<line x1="282.20" y1="245.90" x2="286.70" y2="245.90" stroke="#000" stroke-width="1.8"/>
<line x1="284.30" y1="222.45" x2="286.70" y2="222.45" stroke="#000" stroke-width="1.8"/>
<text x="281.0" y="343.59999999999997" font-size="11" text-anchor="end" fill="#000" stroke="#000" stroke-width="0.4" font-weight="bold">0</text>
<text x="281.0" y="296.69999999999993" font-size="11" text-anchor="end" fill="#000" stroke="#000" stroke-width="0.4" font-weight="bold">10</text>
<text x="281.0" y="249.79999999999998" font-size="11" text-anchor="end" fill="#000" stroke="#000" stroke-width="0.4" font-weight="bold">20</text>
<text x="322.6" y="216.5" font-size="13" text-anchor="middle" fill="#000" stroke="#000" stroke-width="0.4" font-weight="bold" textLength="36.6" lengthAdjust="spacingAndGlyphs">saline</text>
<text x="394.4" y="216.5" font-size="13" text-anchor="middle" fill="#000" stroke="#000" stroke-width="0.4" font-weight="bold" textLength="34.9" lengthAdjust="spacingAndGlyphs">polyP</text>
<text x="466.0" y="216.5" font-size="13" text-anchor="middle" fill="#000" stroke="#000" stroke-width="0.4" font-weight="bold" textLength="65.5" lengthAdjust="spacingAndGlyphs">bradykinin</text>
<text x="264.4" y="281.5" font-size="12" text-anchor="middle" fill="#000" stroke="#000" stroke-width="0.4" font-weight="bold" transform="rotate(-90 264.4 281.5)" textLength="109.4" lengthAdjust="spacingAndGlyphs">Evans Blue (μg/mL)</text>
<text x="238.2" y="215.0" font-size="25.5" text-anchor="start" fill="#000" stroke="#000" stroke-width="0.4" font-weight="bold">D</text>
<text x="279.8" y="354.2" font-size="10.5" text-anchor="end" fill="#dc2a2a" stroke="#dc2a2a" stroke-width="0.1" font-weight="bold" textLength="50" lengthAdjust="spacingAndGlyphs">Dendrimer</text>
<text x="280.8" y="368.1" font-size="10.5" text-anchor="end" fill="#1a1ab8" stroke="#1a1ab8" stroke-width="0.1" font-weight="bold" textLength="60.6" lengthAdjust="spacingAndGlyphs">Polymyxin B</text>
</svg></body></html>
